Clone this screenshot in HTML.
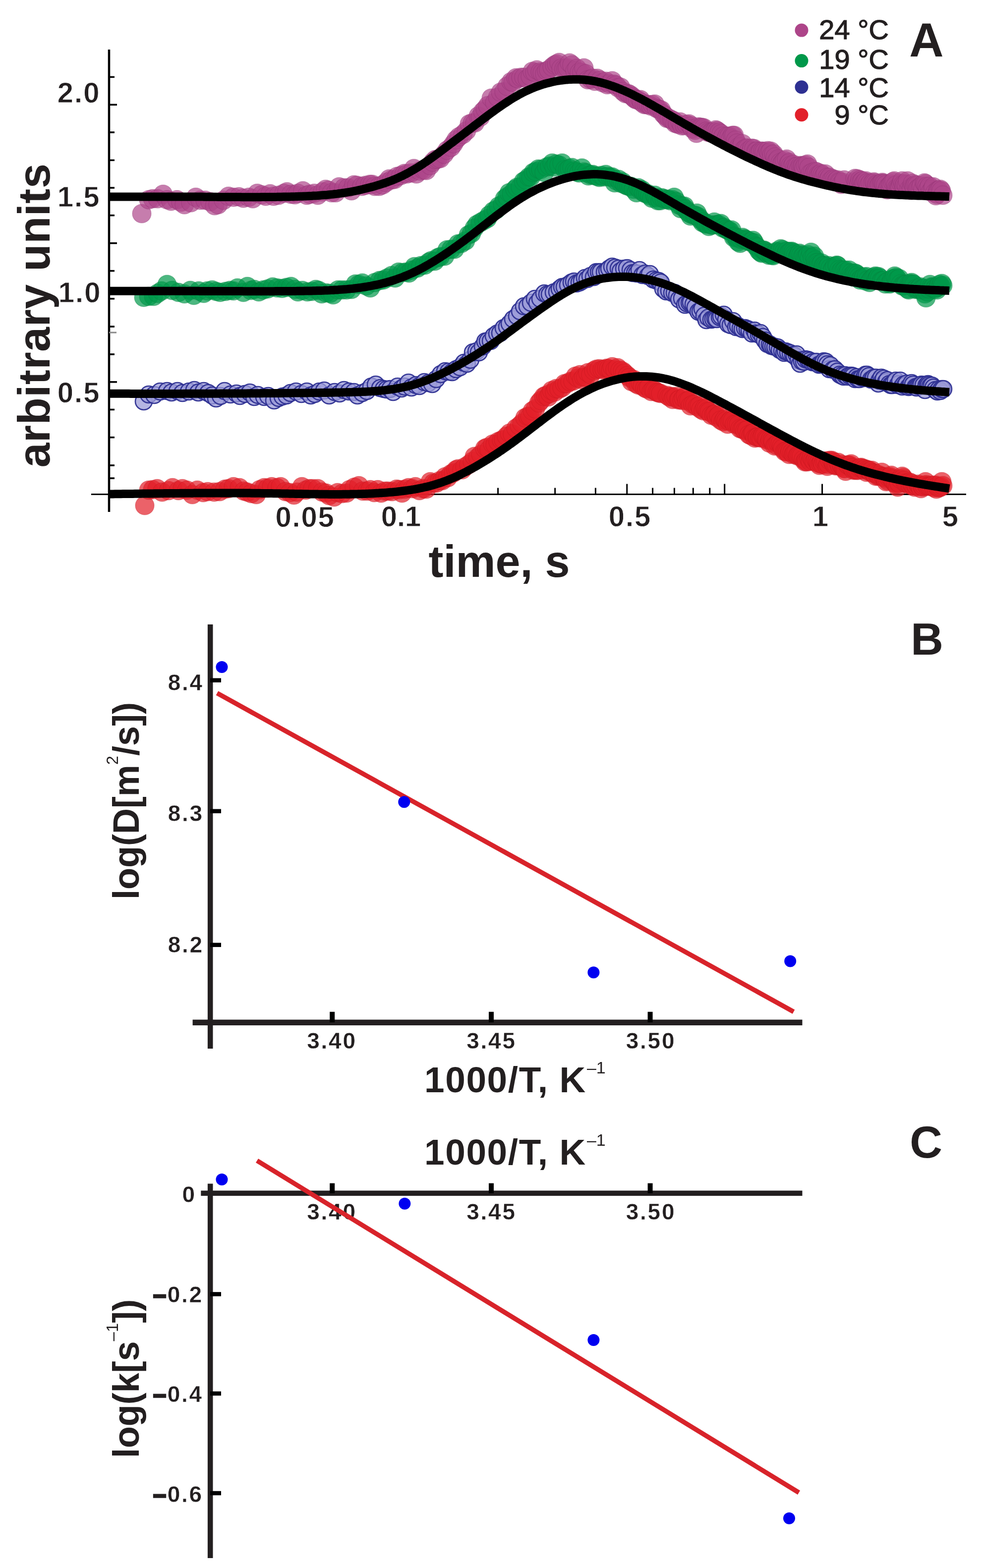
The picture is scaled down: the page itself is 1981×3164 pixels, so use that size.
<!DOCTYPE html>
<html><head><meta charset="utf-8"><title>Figure</title>
<style>html,body{margin:0;padding:0;background:#fff;}svg{display:block;}</style>
</head><body>
<svg width="1981" height="3164" viewBox="0 0 1981 3164">
<rect width="1981" height="3164" fill="#fff"/>
<g stroke="#000" fill="none">
<line x1="220" y1="100" x2="220" y2="1033" stroke-width="4.5"/>
<line x1="184" y1="997.5" x2="1949" y2="997.5" stroke-width="3"/>
<line x1="220" y1="155.4" x2="231" y2="155.4" stroke-width="3.5"/>
<line x1="220" y1="211.3" x2="236" y2="211.3" stroke-width="3.5"/>
<line x1="220" y1="267" x2="231" y2="267" stroke-width="3.5"/>
<line x1="220" y1="323.3" x2="231" y2="323.3" stroke-width="3.5"/>
<line x1="220" y1="379" x2="231" y2="379" stroke-width="3.5"/>
<line x1="220" y1="434.6" x2="231" y2="434.6" stroke-width="3.5"/>
<line x1="220" y1="490.7" x2="236" y2="490.7" stroke-width="3.5"/>
<line x1="220" y1="546.6" x2="231" y2="546.6" stroke-width="3.5"/>
<line x1="220" y1="602.8" x2="231" y2="602.8" stroke-width="3.5"/>
<line x1="220" y1="659" x2="231" y2="659" stroke-width="3.5"/>
<line x1="220" y1="714.9" x2="231" y2="714.9" stroke-width="3.5"/>
<line x1="220" y1="770.8" x2="236" y2="770.8" stroke-width="3.5"/>
<line x1="220" y1="826.5" x2="231" y2="826.5" stroke-width="3.5"/>
<line x1="220" y1="882.6" x2="231" y2="882.6" stroke-width="3.5"/>
<line x1="220" y1="939" x2="231" y2="939" stroke-width="3.5"/>
<line x1="220" y1="965" x2="231" y2="965" stroke-width="3.5"/>
<line x1="220" y1="671" x2="235" y2="671" stroke="#888" stroke-width="3"/>
<line x1="350.6" y1="997.5" x2="350.6" y2="984.5" stroke-width="3"/>
<line x1="465.7" y1="997.5" x2="465.7" y2="984.5" stroke-width="3"/>
<line x1="547.4" y1="997.5" x2="547.4" y2="984.5" stroke-width="3"/>
<line x1="610.8" y1="997.5" x2="610.8" y2="984.5" stroke-width="3"/>
<line x1="662.6" y1="997.5" x2="662.6" y2="984.5" stroke-width="3"/>
<line x1="706.4" y1="997.5" x2="706.4" y2="984.5" stroke-width="3"/>
<line x1="744.3" y1="997.5" x2="744.3" y2="984.5" stroke-width="3"/>
<line x1="777.8" y1="997.5" x2="777.8" y2="984.5" stroke-width="3"/>
<line x1="807.7" y1="997.5" x2="807.7" y2="976.5" stroke-width="3"/>
<line x1="1004.6" y1="997.5" x2="1004.6" y2="984.5" stroke-width="3"/>
<line x1="1119.7" y1="997.5" x2="1119.7" y2="984.5" stroke-width="3"/>
<line x1="1201.4" y1="997.5" x2="1201.4" y2="984.5" stroke-width="3"/>
<line x1="1264.8" y1="997.5" x2="1264.8" y2="976.5" stroke-width="3"/>
<line x1="1316.6" y1="997.5" x2="1316.6" y2="984.5" stroke-width="3"/>
<line x1="1360.4" y1="997.5" x2="1360.4" y2="984.5" stroke-width="3"/>
<line x1="1398.3" y1="997.5" x2="1398.3" y2="984.5" stroke-width="3"/>
<line x1="1431.8" y1="997.5" x2="1431.8" y2="984.5" stroke-width="3"/>
<line x1="1461.7" y1="997.5" x2="1461.7" y2="976.5" stroke-width="3"/>
<line x1="1658.6" y1="997.5" x2="1658.6" y2="976.5" stroke-width="3"/>
</g>
<g fill="#ae468a" fill-opacity="0.7" stroke="#8a2f6c" stroke-opacity="0.35" stroke-width="1.2">
<circle cx="286" cy="431" r="19"/>
<circle cx="300" cy="403" r="19"/>
<circle cx="308" cy="401" r="19"/>
<circle cx="318" cy="401" r="19"/>
<circle cx="329" cy="392" r="19"/>
<circle cx="337" cy="403" r="19"/>
<circle cx="345" cy="406" r="19"/>
<circle cx="357" cy="403" r="19"/>
<circle cx="365" cy="408" r="19"/>
<circle cx="372" cy="413" r="19"/>
<circle cx="385" cy="409" r="19"/>
<circle cx="395" cy="398" r="19"/>
<circle cx="404" cy="404" r="19"/>
<circle cx="414" cy="404" r="19"/>
<circle cx="424" cy="407" r="19"/>
<circle cx="433" cy="415" r="19"/>
<circle cx="440" cy="413" r="19"/>
<circle cx="451" cy="404" r="19"/>
<circle cx="461" cy="396" r="19"/>
<circle cx="471" cy="398" r="19"/>
<circle cx="482" cy="397" r="19"/>
<circle cx="491" cy="400" r="19"/>
<circle cx="502" cy="398" r="19"/>
<circle cx="510" cy="401" r="19"/>
<circle cx="519" cy="390" r="19"/>
<circle cx="528" cy="393" r="19"/>
<circle cx="536" cy="396" r="19"/>
<circle cx="545" cy="391" r="19"/>
<circle cx="552" cy="396" r="19"/>
<circle cx="562" cy="394" r="19"/>
<circle cx="573" cy="390" r="19"/>
<circle cx="579" cy="387" r="19"/>
<circle cx="587" cy="392" r="19"/>
<circle cx="595" cy="393" r="19"/>
<circle cx="601" cy="390" r="19"/>
<circle cx="611" cy="385" r="19"/>
<circle cx="619" cy="394" r="19"/>
<circle cx="625" cy="392" r="19"/>
<circle cx="634" cy="390" r="19"/>
<circle cx="641" cy="394" r="19"/>
<circle cx="651" cy="387" r="19"/>
<circle cx="657" cy="382" r="19"/>
<circle cx="663" cy="384" r="19"/>
<circle cx="669" cy="389" r="19"/>
<circle cx="677" cy="389" r="19"/>
<circle cx="684" cy="377" r="19"/>
<circle cx="694" cy="379" r="19"/>
<circle cx="702" cy="379" r="19"/>
<circle cx="709" cy="385" r="19"/>
<circle cx="714" cy="373" r="19"/>
<circle cx="720" cy="374" r="19"/>
<circle cx="730" cy="376" r="19"/>
<circle cx="737" cy="374" r="19"/>
<circle cx="746" cy="372" r="19"/>
<circle cx="751" cy="372" r="19"/>
<circle cx="756" cy="376" r="19"/>
<circle cx="765" cy="376" r="19"/>
<circle cx="772" cy="373" r="19"/>
<circle cx="779" cy="368" r="19"/>
<circle cx="785" cy="361" r="19"/>
<circle cx="790" cy="363" r="19"/>
<circle cx="796" cy="362" r="19"/>
<circle cx="801" cy="356" r="19"/>
<circle cx="809" cy="354" r="19"/>
<circle cx="816" cy="350" r="19"/>
<circle cx="821" cy="351" r="19"/>
<circle cx="829" cy="349" r="19"/>
<circle cx="835" cy="340" r="19"/>
<circle cx="840" cy="351" r="19"/>
<circle cx="847" cy="345" r="19"/>
<circle cx="855" cy="343" r="19"/>
<circle cx="860" cy="344" r="19"/>
<circle cx="868" cy="334" r="19"/>
<circle cx="873" cy="327" r="19"/>
<circle cx="878" cy="322" r="19"/>
<circle cx="883" cy="321" r="19"/>
<circle cx="888" cy="320" r="19"/>
<circle cx="896" cy="311" r="19"/>
<circle cx="902" cy="303" r="19"/>
<circle cx="910" cy="297" r="19"/>
<circle cx="915" cy="290" r="19"/>
<circle cx="920" cy="282" r="19"/>
<circle cx="926" cy="276" r="19"/>
<circle cx="934" cy="271" r="19"/>
<circle cx="941" cy="264" r="19"/>
<circle cx="947" cy="250" r="19"/>
<circle cx="953" cy="248" r="19"/>
<circle cx="958" cy="248" r="19"/>
<circle cx="965" cy="234" r="19"/>
<circle cx="969" cy="236" r="19"/>
<circle cx="974" cy="225" r="19"/>
<circle cx="979" cy="220" r="19"/>
<circle cx="984" cy="213" r="19"/>
<circle cx="991" cy="198" r="19"/>
<circle cx="998" cy="207" r="19"/>
<circle cx="1004" cy="196" r="19"/>
<circle cx="1010" cy="186" r="19"/>
<circle cx="1017" cy="185" r="19"/>
<circle cx="1023" cy="174" r="19"/>
<circle cx="1031" cy="165" r="19"/>
<circle cx="1035" cy="166" r="19"/>
<circle cx="1041" cy="157" r="19"/>
<circle cx="1045" cy="159" r="19"/>
<circle cx="1051" cy="156" r="19"/>
<circle cx="1057" cy="156" r="19"/>
<circle cx="1064" cy="159" r="19"/>
<circle cx="1070" cy="154" r="19"/>
<circle cx="1074" cy="144" r="19"/>
<circle cx="1079" cy="146" r="19"/>
<circle cx="1083" cy="141" r="19"/>
<circle cx="1090" cy="145" r="19"/>
<circle cx="1094" cy="147" r="19"/>
<circle cx="1099" cy="149" r="19"/>
<circle cx="1103" cy="143" r="19"/>
<circle cx="1107" cy="141" r="19"/>
<circle cx="1114" cy="135" r="19"/>
<circle cx="1119" cy="131" r="19"/>
<circle cx="1123" cy="129" r="19"/>
<circle cx="1128" cy="126" r="19"/>
<circle cx="1132" cy="138" r="19"/>
<circle cx="1138" cy="139" r="19"/>
<circle cx="1142" cy="139" r="19"/>
<circle cx="1145" cy="137" r="19"/>
<circle cx="1149" cy="127" r="19"/>
<circle cx="1154" cy="131" r="19"/>
<circle cx="1160" cy="143" r="19"/>
<circle cx="1164" cy="138" r="19"/>
<circle cx="1169" cy="146" r="19"/>
<circle cx="1174" cy="146" r="19"/>
<circle cx="1178" cy="137" r="19"/>
<circle cx="1182" cy="149" r="19"/>
<circle cx="1186" cy="161" r="19"/>
<circle cx="1192" cy="160" r="19"/>
<circle cx="1196" cy="158" r="19"/>
<circle cx="1200" cy="164" r="19"/>
<circle cx="1205" cy="158" r="19"/>
<circle cx="1211" cy="162" r="19"/>
<circle cx="1216" cy="167" r="19"/>
<circle cx="1222" cy="164" r="19"/>
<circle cx="1225" cy="171" r="19"/>
<circle cx="1230" cy="169" r="19"/>
<circle cx="1235" cy="163" r="19"/>
<circle cx="1239" cy="170" r="19"/>
<circle cx="1243" cy="172" r="19"/>
<circle cx="1247" cy="177" r="19"/>
<circle cx="1252" cy="176" r="19"/>
<circle cx="1257" cy="185" r="19"/>
<circle cx="1262" cy="189" r="19"/>
<circle cx="1267" cy="189" r="19"/>
<circle cx="1271" cy="191" r="19"/>
<circle cx="1276" cy="195" r="19"/>
<circle cx="1280" cy="199" r="19"/>
<circle cx="1283" cy="201" r="19"/>
<circle cx="1287" cy="202" r="19"/>
<circle cx="1292" cy="201" r="19"/>
<circle cx="1295" cy="207" r="19"/>
<circle cx="1300" cy="211" r="19"/>
<circle cx="1304" cy="211" r="19"/>
<circle cx="1308" cy="211" r="19"/>
<circle cx="1313" cy="214" r="19"/>
<circle cx="1316" cy="211" r="19"/>
<circle cx="1321" cy="210" r="19"/>
<circle cx="1325" cy="219" r="19"/>
<circle cx="1330" cy="221" r="19"/>
<circle cx="1334" cy="222" r="19"/>
<circle cx="1338" cy="230" r="19"/>
<circle cx="1342" cy="234" r="19"/>
<circle cx="1346" cy="239" r="19"/>
<circle cx="1350" cy="239" r="19"/>
<circle cx="1355" cy="242" r="19"/>
<circle cx="1358" cy="243" r="19"/>
<circle cx="1362" cy="249" r="19"/>
<circle cx="1366" cy="249" r="19"/>
<circle cx="1368" cy="251" r="19"/>
<circle cx="1372" cy="246" r="19"/>
<circle cx="1376" cy="254" r="19"/>
<circle cx="1381" cy="253" r="19"/>
<circle cx="1385" cy="251" r="19"/>
<circle cx="1390" cy="250" r="19"/>
<circle cx="1394" cy="254" r="19"/>
<circle cx="1397" cy="260" r="19"/>
<circle cx="1402" cy="263" r="19"/>
<circle cx="1405" cy="269" r="19"/>
<circle cx="1409" cy="256" r="19"/>
<circle cx="1413" cy="257" r="19"/>
<circle cx="1416" cy="257" r="19"/>
<circle cx="1420" cy="258" r="19"/>
<circle cx="1425" cy="265" r="19"/>
<circle cx="1429" cy="267" r="19"/>
<circle cx="1433" cy="268" r="19"/>
<circle cx="1437" cy="266" r="19"/>
<circle cx="1440" cy="266" r="19"/>
<circle cx="1444" cy="262" r="19"/>
<circle cx="1447" cy="264" r="19"/>
<circle cx="1451" cy="267" r="19"/>
<circle cx="1455" cy="270" r="19"/>
<circle cx="1459" cy="275" r="19"/>
<circle cx="1463" cy="283" r="19"/>
<circle cx="1467" cy="275" r="19"/>
<circle cx="1471" cy="275" r="19"/>
<circle cx="1474" cy="280" r="19"/>
<circle cx="1478" cy="273" r="19"/>
<circle cx="1481" cy="273" r="19"/>
<circle cx="1484" cy="283" r="19"/>
<circle cx="1487" cy="289" r="19"/>
<circle cx="1491" cy="296" r="19"/>
<circle cx="1494" cy="297" r="19"/>
<circle cx="1498" cy="290" r="19"/>
<circle cx="1501" cy="302" r="19"/>
<circle cx="1505" cy="299" r="19"/>
<circle cx="1508" cy="299" r="19"/>
<circle cx="1511" cy="304" r="19"/>
<circle cx="1515" cy="306" r="19"/>
<circle cx="1517" cy="299" r="19"/>
<circle cx="1521" cy="300" r="19"/>
<circle cx="1525" cy="305" r="19"/>
<circle cx="1527" cy="305" r="19"/>
<circle cx="1530" cy="309" r="19"/>
<circle cx="1532" cy="310" r="19"/>
<circle cx="1535" cy="305" r="19"/>
<circle cx="1539" cy="305" r="19"/>
<circle cx="1542" cy="306" r="19"/>
<circle cx="1546" cy="311" r="19"/>
<circle cx="1549" cy="304" r="19"/>
<circle cx="1552" cy="308" r="19"/>
<circle cx="1555" cy="305" r="19"/>
<circle cx="1557" cy="313" r="19"/>
<circle cx="1561" cy="311" r="19"/>
<circle cx="1564" cy="317" r="19"/>
<circle cx="1567" cy="325" r="19"/>
<circle cx="1570" cy="321" r="19"/>
<circle cx="1574" cy="328" r="19"/>
<circle cx="1577" cy="331" r="19"/>
<circle cx="1580" cy="327" r="19"/>
<circle cx="1583" cy="324" r="19"/>
<circle cx="1587" cy="321" r="19"/>
<circle cx="1591" cy="330" r="19"/>
<circle cx="1593" cy="328" r="19"/>
<circle cx="1595" cy="334" r="19"/>
<circle cx="1598" cy="336" r="19"/>
<circle cx="1601" cy="332" r="19"/>
<circle cx="1604" cy="337" r="19"/>
<circle cx="1606" cy="343" r="19"/>
<circle cx="1608" cy="336" r="19"/>
<circle cx="1611" cy="342" r="19"/>
<circle cx="1615" cy="334" r="19"/>
<circle cx="1618" cy="335" r="19"/>
<circle cx="1620" cy="335" r="19"/>
<circle cx="1622" cy="339" r="19"/>
<circle cx="1625" cy="333" r="19"/>
<circle cx="1629" cy="331" r="19"/>
<circle cx="1632" cy="338" r="19"/>
<circle cx="1635" cy="350" r="19"/>
<circle cx="1639" cy="348" r="19"/>
<circle cx="1642" cy="351" r="19"/>
<circle cx="1645" cy="346" r="19"/>
<circle cx="1648" cy="347" r="19"/>
<circle cx="1651" cy="353" r="19"/>
<circle cx="1653" cy="355" r="19"/>
<circle cx="1656" cy="350" r="19"/>
<circle cx="1659" cy="353" r="19"/>
<circle cx="1662" cy="356" r="19"/>
<circle cx="1665" cy="351" r="19"/>
<circle cx="1669" cy="358" r="19"/>
<circle cx="1671" cy="363" r="19"/>
<circle cx="1674" cy="358" r="19"/>
<circle cx="1677" cy="364" r="19"/>
<circle cx="1681" cy="361" r="19"/>
<circle cx="1684" cy="363" r="19"/>
<circle cx="1687" cy="366" r="19"/>
<circle cx="1690" cy="363" r="19"/>
<circle cx="1693" cy="367" r="19"/>
<circle cx="1695" cy="368" r="19"/>
<circle cx="1697" cy="372" r="19"/>
<circle cx="1701" cy="368" r="19"/>
<circle cx="1703" cy="363" r="19"/>
<circle cx="1725" cy="360" r="19"/>
<circle cx="1728" cy="366" r="19"/>
<circle cx="1730" cy="361" r="19"/>
<circle cx="1733" cy="371" r="19"/>
<circle cx="1735" cy="363" r="19"/>
<circle cx="1738" cy="366" r="19"/>
<circle cx="1740" cy="365" r="19"/>
<circle cx="1742" cy="371" r="19"/>
<circle cx="1744" cy="368" r="19"/>
<circle cx="1747" cy="365" r="19"/>
<circle cx="1750" cy="369" r="19"/>
<circle cx="1753" cy="373" r="19"/>
<circle cx="1756" cy="369" r="19"/>
<circle cx="1760" cy="370" r="19"/>
<circle cx="1763" cy="367" r="19"/>
<circle cx="1765" cy="369" r="19"/>
<circle cx="1768" cy="372" r="19"/>
<circle cx="1770" cy="373" r="19"/>
<circle cx="1773" cy="374" r="19"/>
<circle cx="1775" cy="372" r="19"/>
<circle cx="1778" cy="370" r="19"/>
<circle cx="1780" cy="368" r="19"/>
<circle cx="1782" cy="370" r="19"/>
<circle cx="1784" cy="371" r="19"/>
<circle cx="1787" cy="373" r="19"/>
<circle cx="1790" cy="383" r="19"/>
<circle cx="1792" cy="377" r="19"/>
<circle cx="1795" cy="375" r="19"/>
<circle cx="1797" cy="380" r="19"/>
<circle cx="1798" cy="371" r="19"/>
<circle cx="1801" cy="367" r="19"/>
<circle cx="1804" cy="365" r="19"/>
<circle cx="1807" cy="374" r="19"/>
<circle cx="1809" cy="380" r="19"/>
<circle cx="1812" cy="380" r="19"/>
<circle cx="1814" cy="380" r="19"/>
<circle cx="1816" cy="378" r="19"/>
<circle cx="1818" cy="370" r="19"/>
<circle cx="1820" cy="365" r="19"/>
<circle cx="1822" cy="372" r="19"/>
<circle cx="1824" cy="375" r="19"/>
<circle cx="1826" cy="371" r="19"/>
<circle cx="1829" cy="373" r="19"/>
<circle cx="1831" cy="365" r="19"/>
<circle cx="1834" cy="382" r="19"/>
<circle cx="1837" cy="384" r="19"/>
<circle cx="1839" cy="378" r="19"/>
<circle cx="1841" cy="370" r="19"/>
<circle cx="1843" cy="376" r="19"/>
<circle cx="1845" cy="377" r="19"/>
<circle cx="1847" cy="373" r="19"/>
<circle cx="1850" cy="374" r="19"/>
<circle cx="1851" cy="381" r="19"/>
<circle cx="1854" cy="379" r="19"/>
<circle cx="1857" cy="379" r="19"/>
<circle cx="1859" cy="375" r="19"/>
<circle cx="1862" cy="382" r="19"/>
<circle cx="1865" cy="369" r="19"/>
<circle cx="1867" cy="371" r="19"/>
<circle cx="1870" cy="376" r="19"/>
<circle cx="1872" cy="382" r="19"/>
<circle cx="1875" cy="376" r="19"/>
<circle cx="1877" cy="387" r="19"/>
<circle cx="1881" cy="382" r="19"/>
<circle cx="1883" cy="377" r="19"/>
<circle cx="1886" cy="389" r="19"/>
<circle cx="1888" cy="395" r="19"/>
<circle cx="1890" cy="392" r="19"/>
<circle cx="1892" cy="384" r="19"/>
<circle cx="1894" cy="384" r="19"/>
<circle cx="1897" cy="382" r="19"/>
<circle cx="1899" cy="385" r="19"/>
<circle cx="1902" cy="394" r="19"/>
</g>
<g fill="#00984a" fill-opacity="0.7" stroke="#0a7a3c" stroke-opacity="0.35" stroke-width="1.2">
<circle cx="290" cy="600" r="19"/>
<circle cx="300" cy="598" r="19"/>
<circle cx="310" cy="598" r="19"/>
<circle cx="318" cy="592" r="19"/>
<circle cx="326" cy="587" r="19"/>
<circle cx="337" cy="574" r="19"/>
<circle cx="347" cy="586" r="19"/>
<circle cx="360" cy="590" r="19"/>
<circle cx="372" cy="593" r="19"/>
<circle cx="384" cy="586" r="19"/>
<circle cx="391" cy="596" r="19"/>
<circle cx="401" cy="587" r="19"/>
<circle cx="411" cy="592" r="19"/>
<circle cx="418" cy="587" r="19"/>
<circle cx="428" cy="585" r="19"/>
<circle cx="436" cy="588" r="19"/>
<circle cx="444" cy="590" r="19"/>
<circle cx="455" cy="588" r="19"/>
<circle cx="464" cy="586" r="19"/>
<circle cx="471" cy="587" r="19"/>
<circle cx="479" cy="581" r="19"/>
<circle cx="491" cy="590" r="19"/>
<circle cx="499" cy="578" r="19"/>
<circle cx="506" cy="586" r="19"/>
<circle cx="513" cy="584" r="19"/>
<circle cx="522" cy="589" r="19"/>
<circle cx="531" cy="585" r="19"/>
<circle cx="540" cy="583" r="19"/>
<circle cx="550" cy="579" r="19"/>
<circle cx="559" cy="581" r="19"/>
<circle cx="569" cy="582" r="19"/>
<circle cx="578" cy="580" r="19"/>
<circle cx="587" cy="578" r="19"/>
<circle cx="595" cy="584" r="19"/>
<circle cx="601" cy="589" r="19"/>
<circle cx="610" cy="586" r="19"/>
<circle cx="620" cy="589" r="19"/>
<circle cx="629" cy="588" r="19"/>
<circle cx="637" cy="584" r="19"/>
<circle cx="643" cy="586" r="19"/>
<circle cx="649" cy="593" r="19"/>
<circle cx="658" cy="591" r="19"/>
<circle cx="666" cy="592" r="19"/>
<circle cx="672" cy="595" r="19"/>
<circle cx="682" cy="585" r="19"/>
<circle cx="690" cy="585" r="19"/>
<circle cx="699" cy="585" r="19"/>
<circle cx="709" cy="584" r="19"/>
<circle cx="717" cy="573" r="19"/>
<circle cx="724" cy="574" r="19"/>
<circle cx="731" cy="571" r="19"/>
<circle cx="739" cy="577" r="19"/>
<circle cx="747" cy="581" r="19"/>
<circle cx="756" cy="570" r="19"/>
<circle cx="766" cy="566" r="19"/>
<circle cx="773" cy="565" r="19"/>
<circle cx="781" cy="561" r="19"/>
<circle cx="790" cy="556" r="19"/>
<circle cx="797" cy="561" r="19"/>
<circle cx="804" cy="549" r="19"/>
<circle cx="812" cy="550" r="19"/>
<circle cx="819" cy="549" r="19"/>
<circle cx="825" cy="551" r="19"/>
<circle cx="831" cy="545" r="19"/>
<circle cx="836" cy="538" r="19"/>
<circle cx="842" cy="541" r="19"/>
<circle cx="849" cy="536" r="19"/>
<circle cx="857" cy="535" r="19"/>
<circle cx="865" cy="529" r="19"/>
<circle cx="870" cy="526" r="19"/>
<circle cx="877" cy="527" r="19"/>
<circle cx="883" cy="520" r="19"/>
<circle cx="888" cy="518" r="19"/>
<circle cx="897" cy="517" r="19"/>
<circle cx="902" cy="504" r="19"/>
<circle cx="910" cy="503" r="19"/>
<circle cx="917" cy="503" r="19"/>
<circle cx="924" cy="492" r="19"/>
<circle cx="931" cy="491" r="19"/>
<circle cx="939" cy="486" r="19"/>
<circle cx="945" cy="474" r="19"/>
<circle cx="951" cy="471" r="19"/>
<circle cx="957" cy="460" r="19"/>
<circle cx="962" cy="453" r="19"/>
<circle cx="969" cy="449" r="19"/>
<circle cx="976" cy="445" r="19"/>
<circle cx="983" cy="441" r="19"/>
<circle cx="987" cy="434" r="19"/>
<circle cx="995" cy="426" r="19"/>
<circle cx="1001" cy="423" r="19"/>
<circle cx="1006" cy="416" r="19"/>
<circle cx="1014" cy="412" r="19"/>
<circle cx="1018" cy="401" r="19"/>
<circle cx="1023" cy="397" r="19"/>
<circle cx="1027" cy="389" r="19"/>
<circle cx="1032" cy="391" r="19"/>
<circle cx="1039" cy="382" r="19"/>
<circle cx="1043" cy="378" r="19"/>
<circle cx="1050" cy="377" r="19"/>
<circle cx="1056" cy="366" r="19"/>
<circle cx="1061" cy="363" r="19"/>
<circle cx="1067" cy="357" r="19"/>
<circle cx="1071" cy="357" r="19"/>
<circle cx="1076" cy="348" r="19"/>
<circle cx="1081" cy="346" r="19"/>
<circle cx="1086" cy="341" r="19"/>
<circle cx="1091" cy="342" r="19"/>
<circle cx="1098" cy="348" r="19"/>
<circle cx="1103" cy="337" r="19"/>
<circle cx="1109" cy="335" r="19"/>
<circle cx="1114" cy="329" r="19"/>
<circle cx="1118" cy="337" r="19"/>
<circle cx="1122" cy="331" r="19"/>
<circle cx="1128" cy="333" r="19"/>
<circle cx="1134" cy="329" r="19"/>
<circle cx="1140" cy="342" r="19"/>
<circle cx="1145" cy="343" r="19"/>
<circle cx="1149" cy="340" r="19"/>
<circle cx="1154" cy="338" r="19"/>
<circle cx="1159" cy="345" r="19"/>
<circle cx="1163" cy="347" r="19"/>
<circle cx="1168" cy="349" r="19"/>
<circle cx="1174" cy="339" r="19"/>
<circle cx="1178" cy="347" r="19"/>
<circle cx="1183" cy="349" r="19"/>
<circle cx="1187" cy="355" r="19"/>
<circle cx="1192" cy="353" r="19"/>
<circle cx="1196" cy="352" r="19"/>
<circle cx="1201" cy="355" r="19"/>
<circle cx="1206" cy="356" r="19"/>
<circle cx="1209" cy="358" r="19"/>
<circle cx="1213" cy="354" r="19"/>
<circle cx="1218" cy="357" r="19"/>
<circle cx="1222" cy="352" r="19"/>
<circle cx="1226" cy="356" r="19"/>
<circle cx="1232" cy="358" r="19"/>
<circle cx="1235" cy="357" r="19"/>
<circle cx="1240" cy="369" r="19"/>
<circle cx="1244" cy="365" r="19"/>
<circle cx="1248" cy="362" r="19"/>
<circle cx="1253" cy="370" r="19"/>
<circle cx="1256" cy="367" r="19"/>
<circle cx="1261" cy="373" r="19"/>
<circle cx="1265" cy="375" r="19"/>
<circle cx="1269" cy="376" r="19"/>
<circle cx="1273" cy="376" r="19"/>
<circle cx="1278" cy="382" r="19"/>
<circle cx="1284" cy="389" r="19"/>
<circle cx="1288" cy="379" r="19"/>
<circle cx="1292" cy="384" r="19"/>
<circle cx="1295" cy="383" r="19"/>
<circle cx="1299" cy="389" r="19"/>
<circle cx="1303" cy="391" r="19"/>
<circle cx="1307" cy="391" r="19"/>
<circle cx="1311" cy="395" r="19"/>
<circle cx="1315" cy="400" r="19"/>
<circle cx="1321" cy="394" r="19"/>
<circle cx="1324" cy="399" r="19"/>
<circle cx="1327" cy="405" r="19"/>
<circle cx="1332" cy="405" r="19"/>
<circle cx="1335" cy="399" r="19"/>
<circle cx="1340" cy="401" r="19"/>
<circle cx="1345" cy="403" r="19"/>
<circle cx="1348" cy="402" r="19"/>
<circle cx="1352" cy="405" r="19"/>
<circle cx="1357" cy="403" r="19"/>
<circle cx="1360" cy="398" r="19"/>
<circle cx="1365" cy="407" r="19"/>
<circle cx="1370" cy="414" r="19"/>
<circle cx="1373" cy="421" r="19"/>
<circle cx="1376" cy="416" r="19"/>
<circle cx="1381" cy="416" r="19"/>
<circle cx="1383" cy="422" r="19"/>
<circle cx="1387" cy="427" r="19"/>
<circle cx="1390" cy="430" r="19"/>
<circle cx="1393" cy="436" r="19"/>
<circle cx="1396" cy="433" r="19"/>
<circle cx="1401" cy="434" r="19"/>
<circle cx="1404" cy="435" r="19"/>
<circle cx="1406" cy="430" r="19"/>
<circle cx="1410" cy="438" r="19"/>
<circle cx="1413" cy="443" r="19"/>
<circle cx="1417" cy="449" r="19"/>
<circle cx="1420" cy="448" r="19"/>
<circle cx="1423" cy="452" r="19"/>
<circle cx="1426" cy="452" r="19"/>
<circle cx="1430" cy="457" r="19"/>
<circle cx="1435" cy="454" r="19"/>
<circle cx="1438" cy="454" r="19"/>
<circle cx="1441" cy="448" r="19"/>
<circle cx="1446" cy="453" r="19"/>
<circle cx="1450" cy="453" r="19"/>
<circle cx="1454" cy="451" r="19"/>
<circle cx="1458" cy="460" r="19"/>
<circle cx="1461" cy="459" r="19"/>
<circle cx="1465" cy="463" r="19"/>
<circle cx="1469" cy="465" r="19"/>
<circle cx="1472" cy="466" r="19"/>
<circle cx="1476" cy="464" r="19"/>
<circle cx="1480" cy="479" r="19"/>
<circle cx="1482" cy="477" r="19"/>
<circle cx="1487" cy="480" r="19"/>
<circle cx="1489" cy="488" r="19"/>
<circle cx="1493" cy="491" r="19"/>
<circle cx="1495" cy="483" r="19"/>
<circle cx="1498" cy="479" r="19"/>
<circle cx="1502" cy="482" r="19"/>
<circle cx="1505" cy="484" r="19"/>
<circle cx="1508" cy="485" r="19"/>
<circle cx="1512" cy="488" r="19"/>
<circle cx="1515" cy="488" r="19"/>
<circle cx="1519" cy="485" r="19"/>
<circle cx="1522" cy="490" r="19"/>
<circle cx="1525" cy="497" r="19"/>
<circle cx="1528" cy="499" r="19"/>
<circle cx="1531" cy="506" r="19"/>
<circle cx="1534" cy="509" r="19"/>
<circle cx="1537" cy="511" r="19"/>
<circle cx="1540" cy="505" r="19"/>
<circle cx="1542" cy="505" r="19"/>
<circle cx="1545" cy="508" r="19"/>
<circle cx="1548" cy="511" r="19"/>
<circle cx="1551" cy="515" r="19"/>
<circle cx="1554" cy="512" r="19"/>
<circle cx="1557" cy="515" r="19"/>
<circle cx="1560" cy="516" r="19"/>
<circle cx="1564" cy="510" r="19"/>
<circle cx="1567" cy="507" r="19"/>
<circle cx="1570" cy="509" r="19"/>
<circle cx="1572" cy="510" r="19"/>
<circle cx="1575" cy="502" r="19"/>
<circle cx="1579" cy="504" r="19"/>
<circle cx="1582" cy="508" r="19"/>
<circle cx="1585" cy="514" r="19"/>
<circle cx="1588" cy="507" r="19"/>
<circle cx="1591" cy="511" r="19"/>
<circle cx="1594" cy="508" r="19"/>
<circle cx="1597" cy="507" r="19"/>
<circle cx="1600" cy="509" r="19"/>
<circle cx="1602" cy="513" r="19"/>
<circle cx="1605" cy="516" r="19"/>
<circle cx="1609" cy="520" r="19"/>
<circle cx="1611" cy="515" r="19"/>
<circle cx="1613" cy="511" r="19"/>
<circle cx="1616" cy="514" r="19"/>
<circle cx="1619" cy="518" r="19"/>
<circle cx="1622" cy="516" r="19"/>
<circle cx="1625" cy="519" r="19"/>
<circle cx="1628" cy="518" r="19"/>
<circle cx="1630" cy="514" r="19"/>
<circle cx="1633" cy="520" r="19"/>
<circle cx="1636" cy="509" r="19"/>
<circle cx="1639" cy="520" r="19"/>
<circle cx="1643" cy="517" r="19"/>
<circle cx="1645" cy="525" r="19"/>
<circle cx="1647" cy="530" r="19"/>
<circle cx="1650" cy="530" r="19"/>
<circle cx="1652" cy="533" r="19"/>
<circle cx="1655" cy="534" r="19"/>
<circle cx="1658" cy="531" r="19"/>
<circle cx="1661" cy="536" r="19"/>
<circle cx="1663" cy="536" r="19"/>
<circle cx="1666" cy="537" r="19"/>
<circle cx="1669" cy="539" r="19"/>
<circle cx="1672" cy="536" r="19"/>
<circle cx="1675" cy="541" r="19"/>
<circle cx="1679" cy="545" r="19"/>
<circle cx="1681" cy="543" r="19"/>
<circle cx="1684" cy="537" r="19"/>
<circle cx="1688" cy="535" r="19"/>
<circle cx="1690" cy="536" r="19"/>
<circle cx="1693" cy="544" r="19"/>
<circle cx="1696" cy="548" r="19"/>
<circle cx="1699" cy="545" r="19"/>
<circle cx="1702" cy="547" r="19"/>
<circle cx="1705" cy="545" r="19"/>
<circle cx="1708" cy="549" r="19"/>
<circle cx="1710" cy="552" r="19"/>
<circle cx="1713" cy="545" r="19"/>
<circle cx="1717" cy="551" r="19"/>
<circle cx="1719" cy="556" r="19"/>
<circle cx="1721" cy="559" r="19"/>
<circle cx="1724" cy="551" r="19"/>
<circle cx="1727" cy="552" r="19"/>
<circle cx="1730" cy="555" r="19"/>
<circle cx="1733" cy="559" r="19"/>
<circle cx="1735" cy="565" r="19"/>
<circle cx="1738" cy="562" r="19"/>
<circle cx="1741" cy="563" r="19"/>
<circle cx="1743" cy="559" r="19"/>
<circle cx="1746" cy="567" r="19"/>
<circle cx="1748" cy="558" r="19"/>
<circle cx="1751" cy="565" r="19"/>
<circle cx="1754" cy="570" r="19"/>
<circle cx="1757" cy="565" r="19"/>
<circle cx="1760" cy="562" r="19"/>
<circle cx="1763" cy="559" r="19"/>
<circle cx="1766" cy="557" r="19"/>
<circle cx="1768" cy="564" r="19"/>
<circle cx="1770" cy="562" r="19"/>
<circle cx="1772" cy="558" r="19"/>
<circle cx="1775" cy="561" r="19"/>
<circle cx="1778" cy="567" r="19"/>
<circle cx="1780" cy="567" r="19"/>
<circle cx="1783" cy="566" r="19"/>
<circle cx="1786" cy="573" r="19"/>
<circle cx="1789" cy="569" r="19"/>
<circle cx="1792" cy="568" r="19"/>
<circle cx="1795" cy="573" r="19"/>
<circle cx="1798" cy="571" r="19"/>
<circle cx="1800" cy="563" r="19"/>
<circle cx="1803" cy="562" r="19"/>
<circle cx="1805" cy="557" r="19"/>
<circle cx="1808" cy="560" r="19"/>
<circle cx="1811" cy="564" r="19"/>
<circle cx="1814" cy="562" r="19"/>
<circle cx="1817" cy="573" r="19"/>
<circle cx="1820" cy="577" r="19"/>
<circle cx="1823" cy="577" r="19"/>
<circle cx="1824" cy="574" r="19"/>
<circle cx="1826" cy="575" r="19"/>
<circle cx="1828" cy="574" r="19"/>
<circle cx="1831" cy="583" r="19"/>
<circle cx="1833" cy="585" r="19"/>
<circle cx="1835" cy="572" r="19"/>
<circle cx="1837" cy="574" r="19"/>
<circle cx="1839" cy="570" r="19"/>
<circle cx="1841" cy="573" r="19"/>
<circle cx="1844" cy="574" r="19"/>
<circle cx="1847" cy="584" r="19"/>
<circle cx="1849" cy="582" r="19"/>
<circle cx="1852" cy="584" r="19"/>
<circle cx="1854" cy="582" r="19"/>
<circle cx="1857" cy="579" r="19"/>
<circle cx="1859" cy="585" r="19"/>
<circle cx="1861" cy="582" r="19"/>
<circle cx="1864" cy="582" r="19"/>
<circle cx="1866" cy="593" r="19"/>
<circle cx="1868" cy="601" r="19"/>
<circle cx="1871" cy="589" r="19"/>
<circle cx="1874" cy="583" r="19"/>
<circle cx="1876" cy="574" r="19"/>
<circle cx="1879" cy="579" r="19"/>
<circle cx="1881" cy="581" r="19"/>
<circle cx="1883" cy="579" r="19"/>
<circle cx="1886" cy="583" r="19"/>
<circle cx="1888" cy="581" r="19"/>
<circle cx="1890" cy="585" r="19"/>
<circle cx="1893" cy="579" r="19"/>
<circle cx="1895" cy="574" r="19"/>
<circle cx="1898" cy="577" r="19"/>
<circle cx="1900" cy="572" r="19"/>
<circle cx="1902" cy="576" r="19"/>
</g>
<g fill="#9c9cd8" fill-opacity="0.75" stroke="#2e3092" stroke-opacity="0.95" stroke-width="2.6">
<circle cx="290" cy="810" r="17"/>
<circle cx="300" cy="796" r="17"/>
<circle cx="311" cy="797" r="17"/>
<circle cx="323" cy="790" r="17"/>
<circle cx="337" cy="789" r="17"/>
<circle cx="346" cy="792" r="17"/>
<circle cx="358" cy="789" r="17"/>
<circle cx="368" cy="793" r="17"/>
<circle cx="381" cy="790" r="17"/>
<circle cx="392" cy="787" r="17"/>
<circle cx="400" cy="792" r="17"/>
<circle cx="411" cy="789" r="17"/>
<circle cx="420" cy="793" r="17"/>
<circle cx="428" cy="798" r="17"/>
<circle cx="436" cy="804" r="17"/>
<circle cx="445" cy="799" r="17"/>
<circle cx="453" cy="789" r="17"/>
<circle cx="465" cy="796" r="17"/>
<circle cx="477" cy="794" r="17"/>
<circle cx="484" cy="799" r="17"/>
<circle cx="494" cy="795" r="17"/>
<circle cx="504" cy="792" r="17"/>
<circle cx="513" cy="801" r="17"/>
<circle cx="520" cy="797" r="17"/>
<circle cx="533" cy="801" r="17"/>
<circle cx="541" cy="799" r="17"/>
<circle cx="553" cy="808" r="17"/>
<circle cx="562" cy="803" r="17"/>
<circle cx="570" cy="800" r="17"/>
<circle cx="578" cy="798" r="17"/>
<circle cx="586" cy="793" r="17"/>
<circle cx="597" cy="790" r="17"/>
<circle cx="608" cy="795" r="17"/>
<circle cx="619" cy="790" r="17"/>
<circle cx="627" cy="798" r="17"/>
<circle cx="635" cy="795" r="17"/>
<circle cx="644" cy="790" r="17"/>
<circle cx="654" cy="788" r="17"/>
<circle cx="664" cy="798" r="17"/>
<circle cx="675" cy="791" r="17"/>
<circle cx="685" cy="794" r="17"/>
<circle cx="694" cy="787" r="17"/>
<circle cx="704" cy="790" r="17"/>
<circle cx="714" cy="791" r="17"/>
<circle cx="721" cy="798" r="17"/>
<circle cx="731" cy="793" r="17"/>
<circle cx="740" cy="789" r="17"/>
<circle cx="749" cy="780" r="17"/>
<circle cx="758" cy="776" r="17"/>
<circle cx="767" cy="783" r="17"/>
<circle cx="774" cy="785" r="17"/>
<circle cx="780" cy="786" r="17"/>
<circle cx="787" cy="785" r="17"/>
<circle cx="793" cy="791" r="17"/>
<circle cx="802" cy="780" r="17"/>
<circle cx="810" cy="784" r="17"/>
<circle cx="816" cy="780" r="17"/>
<circle cx="824" cy="772" r="17"/>
<circle cx="830" cy="782" r="17"/>
<circle cx="839" cy="777" r="17"/>
<circle cx="846" cy="779" r="17"/>
<circle cx="856" cy="771" r="17"/>
<circle cx="864" cy="773" r="17"/>
<circle cx="872" cy="775" r="17"/>
<circle cx="880" cy="765" r="17"/>
<circle cx="889" cy="755" r="17"/>
<circle cx="898" cy="749" r="17"/>
<circle cx="905" cy="750" r="17"/>
<circle cx="912" cy="751" r="17"/>
<circle cx="920" cy="745" r="17"/>
<circle cx="928" cy="741" r="17"/>
<circle cx="936" cy="732" r="17"/>
<circle cx="942" cy="734" r="17"/>
<circle cx="949" cy="726" r="17"/>
<circle cx="954" cy="711" r="17"/>
<circle cx="961" cy="709" r="17"/>
<circle cx="966" cy="711" r="17"/>
<circle cx="974" cy="699" r="17"/>
<circle cx="979" cy="689" r="17"/>
<circle cx="984" cy="688" r="17"/>
<circle cx="990" cy="688" r="17"/>
<circle cx="996" cy="678" r="17"/>
<circle cx="1003" cy="673" r="17"/>
<circle cx="1009" cy="672" r="17"/>
<circle cx="1016" cy="662" r="17"/>
<circle cx="1023" cy="659" r="17"/>
<circle cx="1028" cy="653" r="17"/>
<circle cx="1035" cy="644" r="17"/>
<circle cx="1043" cy="638" r="17"/>
<circle cx="1049" cy="628" r="17"/>
<circle cx="1057" cy="618" r="17"/>
<circle cx="1064" cy="618" r="17"/>
<circle cx="1071" cy="611" r="17"/>
<circle cx="1079" cy="603" r="17"/>
<circle cx="1084" cy="611" r="17"/>
<circle cx="1090" cy="603" r="17"/>
<circle cx="1098" cy="592" r="17"/>
<circle cx="1104" cy="594" r="17"/>
<circle cx="1109" cy="594" r="17"/>
<circle cx="1117" cy="590" r="17"/>
<circle cx="1124" cy="589" r="17"/>
<circle cx="1129" cy="583" r="17"/>
<circle cx="1134" cy="579" r="17"/>
<circle cx="1139" cy="579" r="17"/>
<circle cx="1146" cy="575" r="17"/>
<circle cx="1153" cy="570" r="17"/>
<circle cx="1158" cy="568" r="17"/>
<circle cx="1163" cy="572" r="17"/>
<circle cx="1169" cy="570" r="17"/>
<circle cx="1174" cy="567" r="17"/>
<circle cx="1180" cy="561" r="17"/>
<circle cx="1185" cy="563" r="17"/>
<circle cx="1191" cy="557" r="17"/>
<circle cx="1198" cy="559" r="17"/>
<circle cx="1203" cy="549" r="17"/>
<circle cx="1208" cy="549" r="17"/>
<circle cx="1212" cy="549" r="17"/>
<circle cx="1220" cy="549" r="17"/>
<circle cx="1225" cy="546" r="17"/>
<circle cx="1229" cy="542" r="17"/>
<circle cx="1235" cy="538" r="17"/>
<circle cx="1241" cy="540" r="17"/>
<circle cx="1248" cy="542" r="17"/>
<circle cx="1252" cy="547" r="17"/>
<circle cx="1259" cy="542" r="17"/>
<circle cx="1265" cy="541" r="17"/>
<circle cx="1272" cy="545" r="17"/>
<circle cx="1276" cy="551" r="17"/>
<circle cx="1281" cy="551" r="17"/>
<circle cx="1285" cy="552" r="17"/>
<circle cx="1290" cy="545" r="17"/>
<circle cx="1296" cy="555" r="17"/>
<circle cx="1301" cy="552" r="17"/>
<circle cx="1307" cy="557" r="17"/>
<circle cx="1311" cy="553" r="17"/>
<circle cx="1318" cy="564" r="17"/>
<circle cx="1324" cy="566" r="17"/>
<circle cx="1329" cy="567" r="17"/>
<circle cx="1333" cy="570" r="17"/>
<circle cx="1338" cy="583" r="17"/>
<circle cx="1344" cy="588" r="17"/>
<circle cx="1350" cy="587" r="17"/>
<circle cx="1356" cy="591" r="17"/>
<circle cx="1361" cy="591" r="17"/>
<circle cx="1366" cy="596" r="17"/>
<circle cx="1370" cy="604" r="17"/>
<circle cx="1376" cy="602" r="17"/>
<circle cx="1382" cy="615" r="17"/>
<circle cx="1386" cy="612" r="17"/>
<circle cx="1391" cy="611" r="17"/>
<circle cx="1394" cy="610" r="17"/>
<circle cx="1399" cy="614" r="17"/>
<circle cx="1403" cy="620" r="17"/>
<circle cx="1409" cy="629" r="17"/>
<circle cx="1413" cy="628" r="17"/>
<circle cx="1417" cy="623" r="17"/>
<circle cx="1421" cy="637" r="17"/>
<circle cx="1425" cy="646" r="17"/>
<circle cx="1429" cy="641" r="17"/>
<circle cx="1435" cy="645" r="17"/>
<circle cx="1439" cy="644" r="17"/>
<circle cx="1443" cy="643" r="17"/>
<circle cx="1446" cy="644" r="17"/>
<circle cx="1452" cy="640" r="17"/>
<circle cx="1455" cy="638" r="17"/>
<circle cx="1460" cy="635" r="17"/>
<circle cx="1465" cy="645" r="17"/>
<circle cx="1469" cy="654" r="17"/>
<circle cx="1474" cy="656" r="17"/>
<circle cx="1479" cy="648" r="17"/>
<circle cx="1485" cy="660" r="17"/>
<circle cx="1489" cy="658" r="17"/>
<circle cx="1494" cy="662" r="17"/>
<circle cx="1498" cy="664" r="17"/>
<circle cx="1503" cy="662" r="17"/>
<circle cx="1508" cy="664" r="17"/>
<circle cx="1512" cy="666" r="17"/>
<circle cx="1517" cy="673" r="17"/>
<circle cx="1522" cy="667" r="17"/>
<circle cx="1525" cy="673" r="17"/>
<circle cx="1531" cy="675" r="17"/>
<circle cx="1534" cy="672" r="17"/>
<circle cx="1539" cy="680" r="17"/>
<circle cx="1543" cy="687" r="17"/>
<circle cx="1548" cy="694" r="17"/>
<circle cx="1553" cy="695" r="17"/>
<circle cx="1556" cy="698" r="17"/>
<circle cx="1560" cy="699" r="17"/>
<circle cx="1564" cy="700" r="17"/>
<circle cx="1569" cy="701" r="17"/>
<circle cx="1573" cy="706" r="17"/>
<circle cx="1578" cy="708" r="17"/>
<circle cx="1582" cy="712" r="17"/>
<circle cx="1585" cy="709" r="17"/>
<circle cx="1590" cy="711" r="17"/>
<circle cx="1595" cy="713" r="17"/>
<circle cx="1600" cy="716" r="17"/>
<circle cx="1603" cy="718" r="17"/>
<circle cx="1607" cy="715" r="17"/>
<circle cx="1611" cy="727" r="17"/>
<circle cx="1614" cy="734" r="17"/>
<circle cx="1618" cy="729" r="17"/>
<circle cx="1622" cy="730" r="17"/>
<circle cx="1625" cy="725" r="17"/>
<circle cx="1630" cy="726" r="17"/>
<circle cx="1634" cy="728" r="17"/>
<circle cx="1639" cy="731" r="17"/>
<circle cx="1642" cy="730" r="17"/>
<circle cx="1647" cy="730" r="17"/>
<circle cx="1652" cy="736" r="17"/>
<circle cx="1656" cy="735" r="17"/>
<circle cx="1659" cy="734" r="17"/>
<circle cx="1662" cy="729" r="17"/>
<circle cx="1666" cy="730" r="17"/>
<circle cx="1669" cy="735" r="17"/>
<circle cx="1673" cy="745" r="17"/>
<circle cx="1675" cy="737" r="17"/>
<circle cx="1680" cy="746" r="17"/>
<circle cx="1684" cy="745" r="17"/>
<circle cx="1689" cy="750" r="17"/>
<circle cx="1694" cy="756" r="17"/>
<circle cx="1698" cy="758" r="17"/>
<circle cx="1702" cy="760" r="17"/>
<circle cx="1705" cy="757" r="17"/>
<circle cx="1710" cy="760" r="17"/>
<circle cx="1714" cy="758" r="17"/>
<circle cx="1718" cy="758" r="17"/>
<circle cx="1721" cy="759" r="17"/>
<circle cx="1725" cy="765" r="17"/>
<circle cx="1728" cy="761" r="17"/>
<circle cx="1731" cy="765" r="17"/>
<circle cx="1734" cy="765" r="17"/>
<circle cx="1739" cy="762" r="17"/>
<circle cx="1743" cy="763" r="17"/>
<circle cx="1746" cy="756" r="17"/>
<circle cx="1749" cy="756" r="17"/>
<circle cx="1753" cy="759" r="17"/>
<circle cx="1757" cy="766" r="17"/>
<circle cx="1760" cy="766" r="17"/>
<circle cx="1763" cy="762" r="17"/>
<circle cx="1767" cy="762" r="17"/>
<circle cx="1772" cy="774" r="17"/>
<circle cx="1774" cy="768" r="17"/>
<circle cx="1778" cy="762" r="17"/>
<circle cx="1780" cy="769" r="17"/>
<circle cx="1783" cy="764" r="17"/>
<circle cx="1787" cy="771" r="17"/>
<circle cx="1790" cy="767" r="17"/>
<circle cx="1794" cy="775" r="17"/>
<circle cx="1797" cy="777" r="17"/>
<circle cx="1800" cy="777" r="17"/>
<circle cx="1803" cy="772" r="17"/>
<circle cx="1807" cy="768" r="17"/>
<circle cx="1811" cy="777" r="17"/>
<circle cx="1813" cy="775" r="17"/>
<circle cx="1816" cy="768" r="17"/>
<circle cx="1820" cy="780" r="17"/>
<circle cx="1823" cy="776" r="17"/>
<circle cx="1826" cy="778" r="17"/>
<circle cx="1829" cy="774" r="17"/>
<circle cx="1833" cy="781" r="17"/>
<circle cx="1836" cy="779" r="17"/>
<circle cx="1839" cy="773" r="17"/>
<circle cx="1842" cy="776" r="17"/>
<circle cx="1847" cy="781" r="17"/>
<circle cx="1849" cy="782" r="17"/>
<circle cx="1853" cy="779" r="17"/>
<circle cx="1856" cy="778" r="17"/>
<circle cx="1859" cy="776" r="17"/>
<circle cx="1863" cy="777" r="17"/>
<circle cx="1866" cy="787" r="17"/>
<circle cx="1869" cy="778" r="17"/>
<circle cx="1872" cy="775" r="17"/>
<circle cx="1874" cy="777" r="17"/>
<circle cx="1877" cy="779" r="17"/>
<circle cx="1880" cy="778" r="17"/>
<circle cx="1883" cy="782" r="17"/>
<circle cx="1887" cy="787" r="17"/>
<circle cx="1891" cy="790" r="17"/>
<circle cx="1894" cy="786" r="17"/>
<circle cx="1897" cy="789" r="17"/>
<circle cx="1900" cy="785" r="17"/>
<circle cx="1903" cy="785" r="17"/>
</g>
<g fill="#e2202a" fill-opacity="0.7" stroke="#c0141e" stroke-opacity="0.35" stroke-width="1.2">
<circle cx="292" cy="1020" r="19"/>
<circle cx="300" cy="989" r="19"/>
<circle cx="308" cy="988" r="19"/>
<circle cx="317" cy="986" r="19"/>
<circle cx="327" cy="993" r="19"/>
<circle cx="340" cy="990" r="19"/>
<circle cx="348" cy="984" r="19"/>
<circle cx="360" cy="990" r="19"/>
<circle cx="368" cy="986" r="19"/>
<circle cx="377" cy="989" r="19"/>
<circle cx="388" cy="998" r="19"/>
<circle cx="398" cy="989" r="19"/>
<circle cx="410" cy="994" r="19"/>
<circle cx="419" cy="992" r="19"/>
<circle cx="432" cy="993" r="19"/>
<circle cx="443" cy="992" r="19"/>
<circle cx="454" cy="987" r="19"/>
<circle cx="461" cy="986" r="19"/>
<circle cx="471" cy="982" r="19"/>
<circle cx="483" cy="984" r="19"/>
<circle cx="492" cy="991" r="19"/>
<circle cx="499" cy="993" r="19"/>
<circle cx="507" cy="996" r="19"/>
<circle cx="517" cy="998" r="19"/>
<circle cx="524" cy="988" r="19"/>
<circle cx="533" cy="984" r="19"/>
<circle cx="540" cy="985" r="19"/>
<circle cx="548" cy="982" r="19"/>
<circle cx="559" cy="984" r="19"/>
<circle cx="566" cy="982" r="19"/>
<circle cx="576" cy="992" r="19"/>
<circle cx="585" cy="994" r="19"/>
<circle cx="593" cy="999" r="19"/>
<circle cx="599" cy="993" r="19"/>
<circle cx="609" cy="982" r="19"/>
<circle cx="617" cy="989" r="19"/>
<circle cx="624" cy="986" r="19"/>
<circle cx="631" cy="986" r="19"/>
<circle cx="641" cy="986" r="19"/>
<circle cx="650" cy="993" r="19"/>
<circle cx="658" cy="995" r="19"/>
<circle cx="664" cy="1000" r="19"/>
<circle cx="674" cy="1003" r="19"/>
<circle cx="681" cy="994" r="19"/>
<circle cx="690" cy="996" r="19"/>
<circle cx="699" cy="995" r="19"/>
<circle cx="705" cy="988" r="19"/>
<circle cx="715" cy="983" r="19"/>
<circle cx="724" cy="980" r="19"/>
<circle cx="732" cy="991" r="19"/>
<circle cx="741" cy="991" r="19"/>
<circle cx="747" cy="988" r="19"/>
<circle cx="755" cy="994" r="19"/>
<circle cx="762" cy="988" r="19"/>
<circle cx="769" cy="995" r="19"/>
<circle cx="777" cy="991" r="19"/>
<circle cx="783" cy="991" r="19"/>
<circle cx="791" cy="992" r="19"/>
<circle cx="800" cy="987" r="19"/>
<circle cx="806" cy="988" r="19"/>
<circle cx="811" cy="995" r="19"/>
<circle cx="817" cy="987" r="19"/>
<circle cx="824" cy="984" r="19"/>
<circle cx="832" cy="986" r="19"/>
<circle cx="838" cy="982" r="19"/>
<circle cx="846" cy="990" r="19"/>
<circle cx="854" cy="986" r="19"/>
<circle cx="860" cy="987" r="19"/>
<circle cx="868" cy="972" r="19"/>
<circle cx="874" cy="975" r="19"/>
<circle cx="880" cy="975" r="19"/>
<circle cx="887" cy="970" r="19"/>
<circle cx="892" cy="970" r="19"/>
<circle cx="898" cy="962" r="19"/>
<circle cx="903" cy="964" r="19"/>
<circle cx="910" cy="956" r="19"/>
<circle cx="915" cy="954" r="19"/>
<circle cx="920" cy="948" r="19"/>
<circle cx="924" cy="946" r="19"/>
<circle cx="932" cy="948" r="19"/>
<circle cx="938" cy="942" r="19"/>
<circle cx="946" cy="937" r="19"/>
<circle cx="953" cy="931" r="19"/>
<circle cx="957" cy="921" r="19"/>
<circle cx="964" cy="923" r="19"/>
<circle cx="970" cy="917" r="19"/>
<circle cx="978" cy="905" r="19"/>
<circle cx="982" cy="903" r="19"/>
<circle cx="987" cy="907" r="19"/>
<circle cx="994" cy="896" r="19"/>
<circle cx="999" cy="897" r="19"/>
<circle cx="1005" cy="891" r="19"/>
<circle cx="1012" cy="888" r="19"/>
<circle cx="1016" cy="887" r="19"/>
<circle cx="1022" cy="880" r="19"/>
<circle cx="1028" cy="874" r="19"/>
<circle cx="1034" cy="876" r="19"/>
<circle cx="1041" cy="864" r="19"/>
<circle cx="1048" cy="859" r="19"/>
<circle cx="1053" cy="854" r="19"/>
<circle cx="1059" cy="843" r="19"/>
<circle cx="1065" cy="840" r="19"/>
<circle cx="1069" cy="840" r="19"/>
<circle cx="1074" cy="829" r="19"/>
<circle cx="1080" cy="825" r="19"/>
<circle cx="1087" cy="813" r="19"/>
<circle cx="1091" cy="808" r="19"/>
<circle cx="1097" cy="800" r="19"/>
<circle cx="1101" cy="798" r="19"/>
<circle cx="1106" cy="801" r="19"/>
<circle cx="1110" cy="794" r="19"/>
<circle cx="1113" cy="788" r="19"/>
<circle cx="1119" cy="791" r="19"/>
<circle cx="1122" cy="784" r="19"/>
<circle cx="1128" cy="785" r="19"/>
<circle cx="1134" cy="782" r="19"/>
<circle cx="1139" cy="774" r="19"/>
<circle cx="1144" cy="774" r="19"/>
<circle cx="1150" cy="770" r="19"/>
<circle cx="1156" cy="769" r="19"/>
<circle cx="1161" cy="759" r="19"/>
<circle cx="1166" cy="763" r="19"/>
<circle cx="1170" cy="756" r="19"/>
<circle cx="1174" cy="766" r="19"/>
<circle cx="1178" cy="761" r="19"/>
<circle cx="1182" cy="761" r="19"/>
<circle cx="1186" cy="752" r="19"/>
<circle cx="1192" cy="756" r="19"/>
<circle cx="1198" cy="748" r="19"/>
<circle cx="1203" cy="745" r="19"/>
<circle cx="1209" cy="744" r="19"/>
<circle cx="1215" cy="746" r="19"/>
<circle cx="1219" cy="745" r="19"/>
<circle cx="1224" cy="743" r="19"/>
<circle cx="1228" cy="744" r="19"/>
<circle cx="1232" cy="746" r="19"/>
<circle cx="1235" cy="740" r="19"/>
<circle cx="1241" cy="746" r="19"/>
<circle cx="1246" cy="742" r="19"/>
<circle cx="1251" cy="747" r="19"/>
<circle cx="1256" cy="749" r="19"/>
<circle cx="1260" cy="753" r="19"/>
<circle cx="1266" cy="758" r="19"/>
<circle cx="1270" cy="762" r="19"/>
<circle cx="1274" cy="770" r="19"/>
<circle cx="1279" cy="766" r="19"/>
<circle cx="1283" cy="774" r="19"/>
<circle cx="1288" cy="777" r="19"/>
<circle cx="1292" cy="773" r="19"/>
<circle cx="1296" cy="779" r="19"/>
<circle cx="1301" cy="783" r="19"/>
<circle cx="1305" cy="785" r="19"/>
<circle cx="1309" cy="782" r="19"/>
<circle cx="1314" cy="790" r="19"/>
<circle cx="1318" cy="787" r="19"/>
<circle cx="1321" cy="788" r="19"/>
<circle cx="1326" cy="792" r="19"/>
<circle cx="1329" cy="793" r="19"/>
<circle cx="1333" cy="794" r="19"/>
<circle cx="1346" cy="798" r="19"/>
<circle cx="1350" cy="801" r="19"/>
<circle cx="1354" cy="800" r="19"/>
<circle cx="1357" cy="806" r="19"/>
<circle cx="1360" cy="802" r="19"/>
<circle cx="1364" cy="800" r="19"/>
<circle cx="1369" cy="807" r="19"/>
<circle cx="1371" cy="806" r="19"/>
<circle cx="1376" cy="808" r="19"/>
<circle cx="1379" cy="803" r="19"/>
<circle cx="1383" cy="799" r="19"/>
<circle cx="1386" cy="809" r="19"/>
<circle cx="1390" cy="808" r="19"/>
<circle cx="1393" cy="819" r="19"/>
<circle cx="1398" cy="816" r="19"/>
<circle cx="1402" cy="816" r="19"/>
<circle cx="1407" cy="821" r="19"/>
<circle cx="1411" cy="819" r="19"/>
<circle cx="1414" cy="826" r="19"/>
<circle cx="1419" cy="829" r="19"/>
<circle cx="1422" cy="823" r="19"/>
<circle cx="1425" cy="825" r="19"/>
<circle cx="1428" cy="830" r="19"/>
<circle cx="1431" cy="831" r="19"/>
<circle cx="1435" cy="838" r="19"/>
<circle cx="1440" cy="837" r="19"/>
<circle cx="1443" cy="835" r="19"/>
<circle cx="1446" cy="842" r="19"/>
<circle cx="1450" cy="838" r="19"/>
<circle cx="1454" cy="848" r="19"/>
<circle cx="1459" cy="851" r="19"/>
<circle cx="1462" cy="846" r="19"/>
<circle cx="1465" cy="849" r="19"/>
<circle cx="1468" cy="856" r="19"/>
<circle cx="1472" cy="850" r="19"/>
<circle cx="1475" cy="848" r="19"/>
<circle cx="1478" cy="849" r="19"/>
<circle cx="1482" cy="856" r="19"/>
<circle cx="1486" cy="856" r="19"/>
<circle cx="1490" cy="857" r="19"/>
<circle cx="1493" cy="865" r="19"/>
<circle cx="1497" cy="866" r="19"/>
<circle cx="1500" cy="865" r="19"/>
<circle cx="1503" cy="869" r="19"/>
<circle cx="1507" cy="868" r="19"/>
<circle cx="1511" cy="877" r="19"/>
<circle cx="1515" cy="879" r="19"/>
<circle cx="1518" cy="874" r="19"/>
<circle cx="1520" cy="874" r="19"/>
<circle cx="1523" cy="884" r="19"/>
<circle cx="1527" cy="882" r="19"/>
<circle cx="1529" cy="882" r="19"/>
<circle cx="1533" cy="883" r="19"/>
<circle cx="1536" cy="884" r="19"/>
<circle cx="1539" cy="879" r="19"/>
<circle cx="1542" cy="880" r="19"/>
<circle cx="1546" cy="886" r="19"/>
<circle cx="1548" cy="888" r="19"/>
<circle cx="1552" cy="894" r="19"/>
<circle cx="1554" cy="887" r="19"/>
<circle cx="1558" cy="888" r="19"/>
<circle cx="1560" cy="891" r="19"/>
<circle cx="1563" cy="900" r="19"/>
<circle cx="1566" cy="898" r="19"/>
<circle cx="1570" cy="894" r="19"/>
<circle cx="1574" cy="895" r="19"/>
<circle cx="1577" cy="900" r="19"/>
<circle cx="1579" cy="905" r="19"/>
<circle cx="1583" cy="911" r="19"/>
<circle cx="1586" cy="911" r="19"/>
<circle cx="1589" cy="912" r="19"/>
<circle cx="1592" cy="917" r="19"/>
<circle cx="1594" cy="910" r="19"/>
<circle cx="1598" cy="913" r="19"/>
<circle cx="1601" cy="917" r="19"/>
<circle cx="1603" cy="914" r="19"/>
<circle cx="1606" cy="913" r="19"/>
<circle cx="1609" cy="920" r="19"/>
<circle cx="1611" cy="919" r="19"/>
<circle cx="1614" cy="919" r="19"/>
<circle cx="1617" cy="920" r="19"/>
<circle cx="1621" cy="927" r="19"/>
<circle cx="1624" cy="932" r="19"/>
<circle cx="1626" cy="930" r="19"/>
<circle cx="1628" cy="932" r="19"/>
<circle cx="1632" cy="925" r="19"/>
<circle cx="1635" cy="931" r="19"/>
<circle cx="1637" cy="923" r="19"/>
<circle cx="1640" cy="928" r="19"/>
<circle cx="1643" cy="931" r="19"/>
<circle cx="1646" cy="927" r="19"/>
<circle cx="1649" cy="930" r="19"/>
<circle cx="1651" cy="935" r="19"/>
<circle cx="1653" cy="939" r="19"/>
<circle cx="1656" cy="936" r="19"/>
<circle cx="1658" cy="932" r="19"/>
<circle cx="1660" cy="937" r="19"/>
<circle cx="1663" cy="931" r="19"/>
<circle cx="1666" cy="930" r="19"/>
<circle cx="1669" cy="941" r="19"/>
<circle cx="1671" cy="937" r="19"/>
<circle cx="1674" cy="929" r="19"/>
<circle cx="1678" cy="929" r="19"/>
<circle cx="1681" cy="932" r="19"/>
<circle cx="1683" cy="938" r="19"/>
<circle cx="1686" cy="940" r="19"/>
<circle cx="1688" cy="939" r="19"/>
<circle cx="1691" cy="933" r="19"/>
<circle cx="1694" cy="940" r="19"/>
<circle cx="1697" cy="937" r="19"/>
<circle cx="1699" cy="941" r="19"/>
<circle cx="1702" cy="945" r="19"/>
<circle cx="1704" cy="946" r="19"/>
<circle cx="1706" cy="951" r="19"/>
<circle cx="1710" cy="938" r="19"/>
<circle cx="1712" cy="939" r="19"/>
<circle cx="1715" cy="939" r="19"/>
<circle cx="1717" cy="936" r="19"/>
<circle cx="1719" cy="944" r="19"/>
<circle cx="1722" cy="949" r="19"/>
<circle cx="1725" cy="948" r="19"/>
<circle cx="1728" cy="949" r="19"/>
<circle cx="1731" cy="949" r="19"/>
<circle cx="1734" cy="944" r="19"/>
<circle cx="1737" cy="943" r="19"/>
<circle cx="1740" cy="945" r="19"/>
<circle cx="1743" cy="948" r="19"/>
<circle cx="1745" cy="946" r="19"/>
<circle cx="1748" cy="953" r="19"/>
<circle cx="1750" cy="948" r="19"/>
<circle cx="1753" cy="949" r="19"/>
<circle cx="1755" cy="951" r="19"/>
<circle cx="1757" cy="953" r="19"/>
<circle cx="1759" cy="949" r="19"/>
<circle cx="1762" cy="954" r="19"/>
<circle cx="1764" cy="956" r="19"/>
<circle cx="1767" cy="961" r="19"/>
<circle cx="1770" cy="957" r="19"/>
<circle cx="1772" cy="961" r="19"/>
<circle cx="1774" cy="960" r="19"/>
<circle cx="1777" cy="960" r="19"/>
<circle cx="1779" cy="953" r="19"/>
<circle cx="1782" cy="962" r="19"/>
<circle cx="1784" cy="963" r="19"/>
<circle cx="1786" cy="965" r="19"/>
<circle cx="1788" cy="972" r="19"/>
<circle cx="1791" cy="970" r="19"/>
<circle cx="1793" cy="963" r="19"/>
<circle cx="1796" cy="962" r="19"/>
<circle cx="1798" cy="959" r="19"/>
<circle cx="1800" cy="967" r="19"/>
<circle cx="1803" cy="972" r="19"/>
<circle cx="1806" cy="975" r="19"/>
<circle cx="1808" cy="977" r="19"/>
<circle cx="1811" cy="983" r="19"/>
<circle cx="1814" cy="975" r="19"/>
<circle cx="1817" cy="967" r="19"/>
<circle cx="1820" cy="961" r="19"/>
<circle cx="1822" cy="964" r="19"/>
<circle cx="1825" cy="969" r="19"/>
<circle cx="1827" cy="975" r="19"/>
<circle cx="1830" cy="976" r="19"/>
<circle cx="1833" cy="976" r="19"/>
<circle cx="1835" cy="973" r="19"/>
<circle cx="1837" cy="979" r="19"/>
<circle cx="1839" cy="975" r="19"/>
<circle cx="1842" cy="980" r="19"/>
<circle cx="1845" cy="983" r="19"/>
<circle cx="1847" cy="979" r="19"/>
<circle cx="1849" cy="980" r="19"/>
<circle cx="1852" cy="977" r="19"/>
<circle cx="1854" cy="980" r="19"/>
<circle cx="1856" cy="981" r="19"/>
<circle cx="1858" cy="986" r="19"/>
<circle cx="1861" cy="982" r="19"/>
<circle cx="1862" cy="982" r="19"/>
<circle cx="1864" cy="979" r="19"/>
<circle cx="1867" cy="972" r="19"/>
<circle cx="1869" cy="978" r="19"/>
<circle cx="1871" cy="981" r="19"/>
<circle cx="1874" cy="981" r="19"/>
<circle cx="1876" cy="981" r="19"/>
<circle cx="1879" cy="981" r="19"/>
<circle cx="1882" cy="979" r="19"/>
<circle cx="1884" cy="984" r="19"/>
<circle cx="1887" cy="979" r="19"/>
<circle cx="1889" cy="987" r="19"/>
<circle cx="1891" cy="981" r="19"/>
<circle cx="1893" cy="984" r="19"/>
<circle cx="1896" cy="984" r="19"/>
<circle cx="1898" cy="982" r="19"/>
<circle cx="1900" cy="972" r="19"/>
<circle cx="1902" cy="980" r="19"/>
</g>
<path d="M220,397.0 224,397.0 228,397.0 232,397.0 236,397.0 240,396.9 244,396.9 248,396.9 252,396.9 256,396.9 260,396.9 264,396.9 268,396.9 272,396.9 276,396.9 280,396.9 284,396.9 288,396.9 292,396.9 296,396.9 300,396.9 304,396.9 308,396.9 312,396.9 316,396.9 320,396.9 324,396.9 328,396.9 332,396.9 336,396.9 340,396.9 344,396.9 348,396.9 352,396.9 356,396.9 360,396.9 364,396.9 368,396.9 372,397.0 376,397.0 380,397.0 384,397.0 388,397.0 392,397.1 396,397.1 400,397.1 404,397.1 408,397.1 412,397.2 416,397.2 420,397.2 424,397.3 428,397.3 432,397.3 436,397.3 440,397.4 444,397.4 448,397.4 452,397.5 456,397.5 460,397.5 464,397.5 468,397.6 472,397.6 476,397.6 480,397.6 484,397.6 488,397.7 492,397.7 496,397.7 500,397.7 504,397.7 508,397.7 512,397.7 516,397.7 520,397.7 524,397.7 528,397.6 532,397.6 536,397.6 540,397.6 544,397.5 548,397.5 552,397.4 556,397.4 560,397.3 564,397.3 568,397.2 572,397.1 576,397.1 580,397.0 584,396.9 588,396.8 592,396.7 596,396.6 600,396.4 604,396.3 608,396.2 612,396.0 616,395.9 620,395.7 624,395.5 628,395.4 632,395.1 636,394.9 640,394.7 644,394.4 648,394.1 652,393.8 656,393.5 660,393.2 664,392.8 668,392.4 672,392.0 676,391.5 680,391.1 684,390.5 688,390.0 692,389.4 696,388.8 700,388.2 704,387.5 708,386.8 712,386.1 716,385.3 720,384.5 724,383.6 728,382.7 732,381.8 736,380.8 740,379.8 744,378.8 748,377.8 752,376.7 756,375.6 760,374.4 764,373.2 768,372.0 772,370.7 776,369.4 780,368.0 784,366.6 788,365.1 792,363.5 796,361.9 800,360.2 804,358.4 808,356.6 812,354.7 816,352.7 820,350.6 824,348.5 828,346.2 832,343.9 836,341.6 840,339.2 844,336.7 848,334.1 852,331.5 856,328.8 860,326.1 864,323.4 868,320.5 872,317.7 876,314.8 880,311.9 884,309.0 888,306.0 892,303.0 896,300.0 900,297.0 904,294.0 908,290.9 912,287.9 916,284.9 920,281.8 924,278.8 928,275.7 932,272.7 936,269.6 940,266.6 944,263.5 948,260.5 952,257.4 956,254.3 960,251.3 964,248.2 968,245.2 972,242.1 976,239.1 980,236.1 984,233.1 988,230.2 992,227.2 996,224.3 1000,221.4 1004,218.6 1008,215.8 1012,213.0 1016,210.3 1020,207.6 1024,205.0 1028,202.4 1032,199.9 1036,197.4 1040,195.1 1044,192.8 1048,190.5 1052,188.4 1056,186.3 1060,184.4 1064,182.5 1068,180.7 1072,178.9 1076,177.3 1080,175.7 1084,174.2 1088,172.8 1092,171.5 1096,170.2 1100,169.0 1104,167.9 1108,166.9 1112,165.9 1116,165.0 1120,164.2 1124,163.5 1128,162.8 1132,162.2 1136,161.7 1140,161.3 1144,160.9 1148,160.6 1152,160.4 1156,160.3 1160,160.2 1164,160.2 1168,160.3 1172,160.5 1176,160.7 1180,161.0 1184,161.5 1188,161.9 1192,162.5 1196,163.1 1200,163.9 1204,164.7 1208,165.6 1212,166.5 1216,167.6 1220,168.7 1224,169.9 1228,171.1 1232,172.5 1236,173.8 1240,175.3 1244,176.8 1248,178.4 1252,180.0 1256,181.7 1260,183.4 1264,185.2 1268,187.0 1272,188.9 1276,190.8 1280,192.8 1284,194.8 1288,196.8 1292,198.9 1296,201.0 1300,203.2 1304,205.3 1308,207.5 1312,209.8 1316,212.0 1320,214.3 1324,216.6 1328,218.9 1332,221.2 1336,223.6 1340,225.9 1344,228.3 1348,230.6 1352,233.0 1356,235.3 1360,237.7 1364,240.0 1368,242.4 1372,244.7 1376,247.0 1380,249.3 1384,251.6 1388,253.9 1392,256.2 1396,258.5 1400,260.7 1404,263.0 1408,265.2 1412,267.5 1416,269.7 1420,271.9 1424,274.1 1428,276.3 1432,278.5 1436,280.6 1440,282.8 1444,285.0 1448,287.1 1452,289.2 1456,291.3 1460,293.4 1464,295.5 1468,297.6 1472,299.6 1476,301.7 1480,303.7 1484,305.7 1488,307.7 1492,309.7 1496,311.7 1500,313.6 1504,315.6 1508,317.5 1512,319.4 1516,321.3 1520,323.1 1524,325.0 1528,326.8 1532,328.6 1536,330.4 1540,332.2 1544,333.9 1548,335.6 1552,337.4 1556,339.0 1560,340.7 1564,342.3 1568,343.9 1572,345.5 1576,347.0 1580,348.6 1584,350.0 1588,351.5 1592,352.9 1596,354.2 1600,355.6 1604,356.9 1608,358.2 1612,359.4 1616,360.6 1620,361.8 1624,362.9 1628,364.1 1632,365.2 1636,366.2 1640,367.3 1644,368.3 1648,369.3 1652,370.3 1656,371.3 1660,372.3 1664,373.2 1668,374.1 1672,375.0 1676,375.9 1680,376.8 1684,377.6 1688,378.4 1692,379.2 1696,380.0 1700,380.7 1704,381.4 1708,382.2 1712,382.8 1716,383.5 1720,384.1 1724,384.7 1728,385.3 1732,385.9 1736,386.4 1740,387.0 1744,387.5 1748,387.9 1752,388.4 1756,388.8 1760,389.2 1764,389.6 1768,390.0 1772,390.4 1776,390.7 1780,391.1 1784,391.4 1788,391.7 1792,392.0 1796,392.2 1800,392.5 1804,392.7 1808,393.0 1812,393.2 1816,393.4 1820,393.6 1824,393.8 1828,394.0 1832,394.1 1836,394.3 1840,394.5 1844,394.6 1848,394.8 1852,394.9 1856,395.0 1860,395.1 1864,395.3 1868,395.4 1872,395.5 1876,395.6 1880,395.7 1884,395.8 1888,395.9 1892,396.0 1896,396.1 1900,396.2 1904,396.3 1908,396.4 1915,396.6" fill="none" stroke="#000" stroke-width="17" stroke-linejoin="round"/>
<path d="M220,587.3 224,587.3 228,587.3 232,587.3 236,587.3 240,587.3 244,587.3 248,587.3 252,587.3 256,587.3 260,587.3 264,587.2 268,587.2 272,587.2 276,587.2 280,587.2 284,587.2 288,587.2 292,587.2 296,587.2 300,587.2 304,587.2 308,587.2 312,587.2 316,587.2 320,587.2 324,587.2 328,587.2 332,587.2 336,587.2 340,587.2 344,587.2 348,587.2 352,587.2 356,587.3 360,587.3 364,587.3 368,587.3 372,587.3 376,587.3 380,587.3 384,587.3 388,587.3 392,587.3 396,587.3 400,587.3 404,587.4 408,587.4 412,587.4 416,587.4 420,587.4 424,587.4 428,587.4 432,587.5 436,587.5 440,587.5 444,587.5 448,587.5 452,587.5 456,587.5 460,587.6 464,587.6 468,587.6 472,587.6 476,587.6 480,587.6 484,587.6 488,587.6 492,587.7 496,587.7 500,587.7 504,587.7 508,587.7 512,587.7 516,587.7 520,587.7 524,587.7 528,587.7 532,587.7 536,587.7 540,587.7 544,587.7 548,587.7 552,587.7 556,587.6 560,587.6 564,587.6 568,587.6 572,587.6 576,587.5 580,587.5 584,587.5 588,587.4 592,587.4 596,587.4 600,587.3 604,587.3 608,587.2 612,587.2 616,587.1 620,587.1 624,587.0 628,586.9 632,586.8 636,586.7 640,586.6 644,586.5 648,586.4 652,586.3 656,586.1 660,585.9 664,585.8 668,585.6 672,585.4 676,585.1 680,584.9 684,584.6 688,584.3 692,584.0 696,583.7 700,583.4 704,583.0 708,582.6 712,582.2 716,581.7 720,581.3 724,580.7 728,580.2 732,579.6 736,579.0 740,578.4 744,577.7 748,577.0 752,576.2 756,575.4 760,574.6 764,573.7 768,572.8 772,571.8 776,570.8 780,569.7 784,568.5 788,567.4 792,566.1 796,564.8 800,563.5 804,562.1 808,560.6 812,559.1 816,557.5 820,555.9 824,554.2 828,552.5 832,550.7 836,548.8 840,546.9 844,544.9 848,542.8 852,540.7 856,538.5 860,536.3 864,534.0 868,531.7 872,529.3 876,526.9 880,524.4 884,521.9 888,519.3 892,516.7 896,514.1 900,511.4 904,508.7 908,505.9 912,503.1 916,500.3 920,497.5 924,494.6 928,491.7 932,488.7 936,485.8 940,482.8 944,479.8 948,476.7 952,473.7 956,470.6 960,467.5 964,464.4 968,461.3 972,458.1 976,455.0 980,451.9 984,448.8 988,445.6 992,442.5 996,439.4 1000,436.3 1004,433.2 1008,430.2 1012,427.2 1016,424.2 1020,421.2 1024,418.3 1028,415.4 1032,412.6 1036,409.8 1040,407.1 1044,404.4 1048,401.8 1052,399.3 1056,396.9 1060,394.5 1064,392.1 1068,389.9 1072,387.7 1076,385.6 1080,383.5 1084,381.5 1088,379.6 1092,377.7 1096,375.9 1100,374.2 1104,372.5 1108,370.9 1112,369.3 1116,367.8 1120,366.3 1124,364.9 1128,363.6 1132,362.3 1136,361.2 1140,360.0 1144,359.0 1148,358.0 1152,357.0 1156,356.2 1160,355.4 1164,354.7 1168,354.0 1172,353.4 1176,352.9 1180,352.5 1184,352.2 1188,351.9 1192,351.7 1196,351.6 1200,351.6 1204,351.6 1208,351.8 1212,352.0 1216,352.3 1220,352.7 1224,353.2 1228,353.8 1232,354.4 1236,355.2 1240,356.0 1244,356.9 1248,357.9 1252,358.9 1256,360.1 1260,361.3 1264,362.6 1268,364.0 1272,365.5 1276,367.0 1280,368.6 1284,370.3 1288,372.0 1292,373.8 1296,375.7 1300,377.6 1304,379.6 1308,381.6 1312,383.7 1316,385.8 1320,388.0 1324,390.2 1328,392.4 1332,394.7 1336,396.9 1340,399.2 1344,401.6 1348,403.9 1352,406.2 1356,408.5 1360,410.9 1364,413.2 1368,415.5 1372,417.8 1376,420.1 1380,422.4 1384,424.6 1388,426.9 1392,429.2 1396,431.4 1400,433.7 1404,435.9 1408,438.2 1412,440.4 1416,442.6 1420,444.8 1424,447.0 1428,449.2 1432,451.4 1436,453.5 1440,455.7 1444,457.8 1448,460.0 1452,462.1 1456,464.3 1460,466.4 1464,468.5 1468,470.6 1472,472.7 1476,474.8 1480,476.9 1484,479.0 1488,481.1 1492,483.1 1496,485.2 1500,487.2 1504,489.3 1508,491.3 1512,493.3 1516,495.3 1520,497.3 1524,499.3 1528,501.3 1532,503.3 1536,505.2 1540,507.2 1544,509.1 1548,511.0 1552,512.9 1556,514.8 1560,516.7 1564,518.6 1568,520.4 1572,522.2 1576,524.0 1580,525.8 1584,527.5 1588,529.2 1592,530.9 1596,532.6 1600,534.2 1604,535.8 1608,537.4 1612,539.0 1616,540.5 1620,542.0 1624,543.4 1628,544.9 1632,546.3 1636,547.7 1640,549.0 1644,550.3 1648,551.6 1652,552.8 1656,554.0 1660,555.2 1664,556.3 1668,557.5 1672,558.5 1676,559.6 1680,560.6 1684,561.6 1688,562.6 1692,563.5 1696,564.4 1700,565.3 1704,566.1 1708,566.9 1712,567.7 1716,568.5 1720,569.3 1724,570.0 1728,570.7 1732,571.4 1736,572.0 1740,572.7 1744,573.3 1748,573.9 1752,574.5 1756,575.0 1760,575.5 1764,576.1 1768,576.6 1772,577.0 1776,577.5 1780,578.0 1784,578.4 1788,578.8 1792,579.2 1796,579.6 1800,580.0 1804,580.4 1808,580.7 1812,581.1 1816,581.4 1820,581.7 1824,582.0 1828,582.3 1832,582.6 1836,582.9 1840,583.1 1844,583.4 1848,583.6 1852,583.8 1856,584.1 1860,584.3 1864,584.5 1868,584.7 1872,584.8 1876,585.0 1880,585.2 1884,585.3 1888,585.5 1892,585.6 1896,585.8 1900,585.9 1904,586.1 1908,586.2 1915,586.4" fill="none" stroke="#000" stroke-width="17" stroke-linejoin="round"/>
<path d="M220,794.3 224,794.3 228,794.3 232,794.3 236,794.3 240,794.3 244,794.3 248,794.3 252,794.3 256,794.3 260,794.3 264,794.4 268,794.4 272,794.4 276,794.4 280,794.4 284,794.4 288,794.4 292,794.4 296,794.4 300,794.4 304,794.4 308,794.4 312,794.4 316,794.4 320,794.4 324,794.4 328,794.4 332,794.4 336,794.4 340,794.4 344,794.4 348,794.4 352,794.4 356,794.4 360,794.4 364,794.4 368,794.4 372,794.3 376,794.3 380,794.3 384,794.3 388,794.3 392,794.3 396,794.3 400,794.3 404,794.3 408,794.3 412,794.3 416,794.2 420,794.2 424,794.2 428,794.2 432,794.2 436,794.2 440,794.2 444,794.1 448,794.1 452,794.1 456,794.1 460,794.1 464,794.0 468,794.0 472,794.0 476,794.0 480,794.0 484,793.9 488,793.9 492,793.9 496,793.9 500,793.8 504,793.8 508,793.8 512,793.8 516,793.7 520,793.7 524,793.7 528,793.7 532,793.6 536,793.6 540,793.6 544,793.5 548,793.5 552,793.5 556,793.4 560,793.4 564,793.4 568,793.4 572,793.3 576,793.3 580,793.3 584,793.2 588,793.2 592,793.1 596,793.1 600,793.1 604,793.0 608,793.0 612,793.0 616,792.9 620,792.9 624,792.8 628,792.8 632,792.8 636,792.7 640,792.7 644,792.6 648,792.6 652,792.5 656,792.5 660,792.4 664,792.3 668,792.3 672,792.2 676,792.1 680,792.1 684,792.0 688,791.9 692,791.8 696,791.7 700,791.6 704,791.5 708,791.4 712,791.3 716,791.2 720,791.1 724,790.9 728,790.8 732,790.6 736,790.4 740,790.2 744,790.0 748,789.8 752,789.5 756,789.2 760,788.9 764,788.6 768,788.2 772,787.8 776,787.4 780,786.9 784,786.4 788,785.8 792,785.3 796,784.6 800,784.0 804,783.2 808,782.5 812,781.7 816,780.8 820,779.9 824,778.9 828,777.9 832,776.8 836,775.7 840,774.5 844,773.2 848,771.9 852,770.5 856,769.1 860,767.6 864,766.0 868,764.4 872,762.7 876,761.0 880,759.3 884,757.4 888,755.6 892,753.7 896,751.7 900,749.8 904,747.8 908,745.7 912,743.6 916,741.5 920,739.3 924,737.2 928,734.9 932,732.7 936,730.4 940,728.1 944,725.7 948,723.3 952,720.9 956,718.4 960,716.0 964,713.5 968,710.9 972,708.3 976,705.7 980,703.1 984,700.4 988,697.7 992,695.0 996,692.2 1000,689.4 1004,686.6 1008,683.7 1012,680.8 1016,677.9 1020,675.0 1024,672.0 1028,669.1 1032,666.1 1036,663.2 1040,660.2 1044,657.2 1048,654.3 1052,651.3 1056,648.4 1060,645.4 1064,642.5 1068,639.6 1072,636.7 1076,633.8 1080,630.9 1084,628.1 1088,625.2 1092,622.4 1096,619.6 1100,616.8 1104,614.0 1108,611.2 1112,608.5 1116,605.9 1120,603.2 1124,600.6 1128,598.1 1132,595.6 1136,593.2 1140,590.9 1144,588.6 1148,586.4 1152,584.3 1156,582.3 1160,580.4 1164,578.5 1168,576.7 1172,575.0 1176,573.4 1180,571.9 1184,570.4 1188,569.1 1192,567.8 1196,566.6 1200,565.5 1204,564.5 1208,563.6 1212,562.7 1216,562.0 1220,561.3 1224,560.7 1228,560.2 1232,559.7 1236,559.3 1240,559.0 1244,558.8 1248,558.6 1252,558.5 1256,558.5 1260,558.5 1264,558.6 1268,558.8 1272,559.0 1276,559.3 1280,559.7 1284,560.1 1288,560.6 1292,561.1 1296,561.8 1300,562.5 1304,563.2 1308,564.1 1312,565.0 1316,565.9 1320,567.0 1324,568.1 1328,569.2 1332,570.4 1336,571.7 1340,573.1 1344,574.5 1348,576.0 1352,577.5 1356,579.1 1360,580.8 1364,582.5 1368,584.2 1372,586.1 1376,587.9 1380,589.8 1384,591.8 1388,593.8 1392,595.8 1396,597.9 1400,600.0 1404,602.2 1408,604.3 1412,606.5 1416,608.7 1420,610.9 1424,613.1 1428,615.3 1432,617.6 1436,619.8 1440,622.0 1444,624.3 1448,626.5 1452,628.7 1456,631.0 1460,633.2 1464,635.5 1468,637.7 1472,640.0 1476,642.2 1480,644.4 1484,646.7 1488,648.9 1492,651.2 1496,653.4 1500,655.7 1504,657.9 1508,660.2 1512,662.4 1516,664.7 1520,667.0 1524,669.3 1528,671.6 1532,673.9 1536,676.2 1540,678.5 1544,680.8 1548,683.2 1552,685.5 1556,687.9 1560,690.2 1564,692.6 1568,694.9 1572,697.3 1576,699.7 1580,702.0 1584,704.3 1588,706.7 1592,709.0 1596,711.3 1600,713.6 1604,715.8 1608,718.1 1612,720.3 1616,722.5 1620,724.7 1624,726.8 1628,728.9 1632,730.9 1636,733.0 1640,734.9 1644,736.9 1648,738.8 1652,740.6 1656,742.4 1660,744.1 1664,745.8 1668,747.5 1672,749.1 1676,750.6 1680,752.1 1684,753.6 1688,755.0 1692,756.4 1696,757.7 1700,759.0 1704,760.2 1708,761.4 1712,762.6 1716,763.7 1720,764.8 1724,765.9 1728,766.9 1732,767.9 1736,768.9 1740,769.8 1744,770.7 1748,771.5 1752,772.4 1756,773.2 1760,774.0 1764,774.7 1768,775.4 1772,776.2 1776,776.8 1780,777.5 1784,778.2 1788,778.8 1792,779.4 1796,780.0 1800,780.6 1804,781.1 1808,781.7 1812,782.2 1816,782.7 1820,783.2 1824,783.7 1828,784.1 1832,784.6 1836,785.0 1840,785.5 1844,785.9 1848,786.3 1852,786.7 1856,787.0 1860,787.4 1864,787.7 1868,788.1 1872,788.4 1876,788.7 1880,789.0 1884,789.3 1888,789.6 1892,789.8 1896,790.1 1900,790.4 1904,790.6 1908,790.9 1915,791.3" fill="none" stroke="#000" stroke-width="17" stroke-linejoin="round"/>
<path d="M220,997.0 224,996.9 228,996.9 232,996.8 236,996.8 240,996.7 244,996.7 248,996.6 252,996.6 256,996.5 260,996.5 264,996.4 268,996.4 272,996.3 276,996.3 280,996.2 284,996.2 288,996.1 292,996.1 296,996.0 300,996.0 304,995.9 308,995.9 312,995.8 316,995.8 320,995.7 324,995.7 328,995.7 332,995.6 336,995.6 340,995.5 344,995.5 348,995.5 352,995.4 356,995.4 360,995.4 364,995.3 368,995.3 372,995.3 376,995.2 380,995.2 384,995.2 388,995.2 392,995.1 396,995.1 400,995.1 404,995.1 408,995.0 412,995.0 416,995.0 420,995.0 424,995.0 428,995.0 432,995.0 436,995.0 440,995.0 444,995.0 448,995.0 452,995.0 456,995.0 460,995.0 464,995.0 468,995.0 472,995.0 476,995.0 480,995.0 484,995.0 488,995.0 492,995.1 496,995.1 500,995.1 504,995.1 508,995.2 512,995.2 516,995.2 520,995.3 524,995.3 528,995.4 532,995.4 536,995.4 540,995.5 544,995.5 548,995.6 552,995.7 556,995.7 560,995.8 564,995.8 568,995.9 572,996.0 576,996.0 580,996.1 584,996.2 588,996.3 592,996.3 596,996.4 600,996.5 604,996.6 608,996.6 612,996.7 616,996.8 620,996.8 624,996.9 628,997.0 632,997.0 636,997.1 640,997.1 644,997.2 648,997.2 652,997.3 656,997.3 660,997.3 664,997.4 668,997.4 672,997.4 676,997.4 680,997.4 684,997.4 688,997.4 692,997.3 696,997.3 700,997.2 704,997.2 708,997.1 712,997.1 716,997.0 720,996.9 724,996.8 728,996.7 732,996.5 736,996.4 740,996.2 744,996.1 748,995.9 752,995.7 756,995.5 760,995.3 764,995.1 768,994.8 772,994.5 776,994.3 780,994.0 784,993.6 788,993.3 792,993.0 796,992.6 800,992.2 804,991.7 808,991.3 812,990.8 816,990.3 820,989.8 824,989.2 828,988.6 832,988.0 836,987.3 840,986.6 844,985.8 848,985.0 852,984.2 856,983.3 860,982.4 864,981.4 868,980.4 872,979.3 876,978.1 880,976.9 884,975.7 888,974.4 892,973.0 896,971.6 900,970.1 904,968.5 908,966.9 912,965.2 916,963.5 920,961.7 924,959.9 928,958.0 932,956.0 936,954.0 940,952.0 944,949.9 948,947.8 952,945.6 956,943.4 960,941.2 964,938.9 968,936.5 972,934.2 976,931.8 980,929.3 984,926.9 988,924.3 992,921.8 996,919.2 1000,916.6 1004,914.0 1008,911.3 1012,908.6 1016,905.8 1020,903.0 1024,900.2 1028,897.4 1032,894.5 1036,891.6 1040,888.6 1044,885.7 1048,882.7 1052,879.7 1056,876.6 1060,873.6 1064,870.5 1068,867.5 1072,864.4 1076,861.3 1080,858.2 1084,855.1 1088,852.1 1092,849.0 1096,846.0 1100,842.9 1104,839.9 1108,836.9 1112,834.0 1116,831.0 1120,828.1 1124,825.3 1128,822.4 1132,819.7 1136,816.9 1140,814.2 1144,811.6 1148,809.0 1152,806.4 1156,803.9 1160,801.5 1164,799.2 1168,796.8 1172,794.6 1176,792.4 1180,790.3 1184,788.3 1188,786.3 1192,784.4 1196,782.5 1200,780.7 1204,779.0 1208,777.4 1212,775.8 1216,774.3 1220,772.9 1224,771.6 1228,770.3 1232,769.1 1236,767.9 1240,766.9 1244,765.9 1248,764.9 1252,764.1 1256,763.3 1260,762.5 1264,761.9 1268,761.3 1272,760.8 1276,760.4 1280,760.0 1284,759.7 1288,759.5 1292,759.4 1296,759.4 1300,759.4 1304,759.5 1308,759.7 1312,759.9 1316,760.3 1320,760.7 1324,761.2 1328,761.7 1332,762.4 1336,763.1 1340,764.0 1344,764.9 1348,765.8 1352,766.9 1356,768.0 1360,769.2 1364,770.4 1368,771.8 1372,773.1 1376,774.6 1380,776.1 1384,777.6 1388,779.2 1392,780.9 1396,782.6 1400,784.4 1404,786.2 1408,788.0 1412,789.9 1416,791.8 1420,793.7 1424,795.7 1428,797.7 1432,799.7 1436,801.8 1440,803.8 1444,805.9 1448,808.0 1452,810.1 1456,812.2 1460,814.3 1464,816.4 1468,818.6 1472,820.7 1476,822.8 1480,825.0 1484,827.2 1488,829.3 1492,831.5 1496,833.7 1500,835.9 1504,838.1 1508,840.2 1512,842.4 1516,844.6 1520,846.8 1524,849.0 1528,851.2 1532,853.5 1536,855.7 1540,857.9 1544,860.1 1548,862.3 1552,864.5 1556,866.7 1560,868.8 1564,871.0 1568,873.2 1572,875.4 1576,877.5 1580,879.7 1584,881.8 1588,884.0 1592,886.1 1596,888.2 1600,890.3 1604,892.4 1608,894.5 1612,896.6 1616,898.6 1620,900.6 1624,902.7 1628,904.6 1632,906.6 1636,908.6 1640,910.5 1644,912.4 1648,914.3 1652,916.1 1656,917.9 1660,919.7 1664,921.5 1668,923.3 1672,925.0 1676,926.7 1680,928.3 1684,930.0 1688,931.6 1692,933.1 1696,934.7 1700,936.2 1704,937.7 1708,939.2 1712,940.6 1716,942.0 1720,943.4 1724,944.7 1728,946.0 1732,947.3 1736,948.5 1740,949.8 1744,950.9 1748,952.1 1752,953.3 1756,954.4 1760,955.5 1764,956.5 1768,957.6 1772,958.6 1776,959.6 1780,960.6 1784,961.6 1788,962.5 1792,963.4 1796,964.4 1800,965.2 1804,966.1 1808,967.0 1812,967.8 1816,968.7 1820,969.5 1824,970.3 1828,971.1 1832,971.9 1836,972.6 1840,973.4 1844,974.1 1848,974.8 1852,975.6 1856,976.3 1860,977.0 1864,977.6 1868,978.3 1872,979.0 1876,979.7 1880,980.3 1884,981.0 1888,981.6 1892,982.2 1896,982.9 1900,983.5 1904,984.1 1908,984.7 1915,985.8" fill="none" stroke="#000" stroke-width="17" stroke-linejoin="round"/>
<circle cx="1617" cy="61.1" r="13.5" fill="#ad4589"/>
<circle cx="1617" cy="122.6" r="13.5" fill="#00984a"/>
<circle cx="1617" cy="175.7" r="13.5" fill="#2e3092"/>
<circle cx="1617" cy="231.7" r="13.5" fill="#e2202a"/>
<g fill="#231f20" font-family="'Liberation Sans', Arial, sans-serif"><text x="202.5" y="207" font-size="58" font-weight="bold" text-anchor="end" letter-spacing="2" stroke="#fff" stroke-width="0.8">2.0</text>
<text x="202.5" y="417" font-size="58" font-weight="bold" text-anchor="end" letter-spacing="2" stroke="#fff" stroke-width="0.8">1.5</text>
<text x="204.5" y="610" font-size="58" font-weight="bold" text-anchor="end" letter-spacing="2" stroke="#fff" stroke-width="0.8">1.0</text>
<text x="202.5" y="812" font-size="58" font-weight="bold" text-anchor="end" letter-spacing="2" stroke="#fff" stroke-width="0.8">0.5</text>
<text x="615.5" y="1063" font-size="58" font-weight="bold" text-anchor="middle" letter-spacing="1.8" stroke="#fff" stroke-width="0.8">0.05</text>
<text x="809" y="1062" font-size="58" font-weight="bold" text-anchor="middle" stroke="#fff" stroke-width="0.8">0.1</text>
<text x="1271" y="1062" font-size="58" font-weight="bold" text-anchor="middle" letter-spacing="2" stroke="#fff" stroke-width="0.8">0.5</text>
<text x="1655" y="1062" font-size="58" font-weight="bold" text-anchor="middle" stroke="#fff" stroke-width="0.8">1</text>
<text x="1917" y="1062" font-size="58" font-weight="bold" text-anchor="middle" stroke="#fff" stroke-width="0.8">5</text>
<text x="1007" y="1164" font-size="90" font-weight="bold" text-anchor="middle" >time, s</text>
<text x="0" y="0" font-size="90" font-weight="bold" text-anchor="middle" letter-spacing="0.6" transform="translate(100,636.5) rotate(-90)">arbitrary units</text>
<text x="1793" y="79" font-size="56" font-weight="normal" text-anchor="end" stroke="#231f20" stroke-width="1.2">24 °C</text>
<text x="1793" y="139" font-size="56" font-weight="normal" text-anchor="end" stroke="#231f20" stroke-width="1.2">19 °C</text>
<text x="1793" y="196" font-size="56" font-weight="normal" text-anchor="end" stroke="#231f20" stroke-width="1.2">14 °C</text>
<text x="1793" y="251" font-size="56" font-weight="normal" text-anchor="end" stroke="#231f20" stroke-width="1.2">9 °C</text>
<text x="1869" y="114" font-size="96" font-weight="bold" text-anchor="middle" >A</text></g>
<g stroke="#231f20">
<line x1="424.2" y1="1260" x2="424.2" y2="2116" stroke-width="10.6"/>
<line x1="388.6" y1="2063.3" x2="1618.5" y2="2063.3" stroke-width="11.4"/>
</g><g stroke="#000">
<line x1="424" y1="1372.7" x2="446" y2="1372.7" stroke-width="8.5"/>
<line x1="424" y1="1636.8" x2="446" y2="1636.8" stroke-width="8.5"/>
<line x1="424" y1="1906.7" x2="446" y2="1906.7" stroke-width="8.5"/>
<line x1="670.2" y1="2063" x2="670.2" y2="2041.7" stroke-width="10"/>
<line x1="991" y1="2063" x2="991" y2="2041.7" stroke-width="10"/>
<line x1="1311.6" y1="2063" x2="1311.6" y2="2041.7" stroke-width="10"/>
</g>
<line x1="438" y1="1398.7" x2="1601" y2="2041.6" stroke="#d8232a" stroke-width="9.5"/>
<circle cx="447.5" cy="1346" r="12" fill="#0000f0"/>
<circle cx="815.3" cy="1618.3" r="12" fill="#0000f0"/>
<circle cx="1197.4" cy="1962.2" r="12" fill="#0000f0"/>
<circle cx="1594.2" cy="1939.5" r="12" fill="#0000f0"/>
<g fill="#231f20" font-family="'Liberation Sans', Arial, sans-serif"><text x="411" y="1393" font-size="46" font-weight="bold" text-anchor="end" letter-spacing="2.8" stroke="#fff" stroke-width="0.4">8.4</text>
<text x="411" y="1657" font-size="46" font-weight="bold" text-anchor="end" letter-spacing="2.8" stroke="#fff" stroke-width="0.4">8.3</text>
<text x="411" y="1922" font-size="46" font-weight="bold" text-anchor="end" letter-spacing="2.8" stroke="#fff" stroke-width="0.4">8.2</text>
<text x="669.5" y="2116" font-size="46" font-weight="bold" text-anchor="middle" letter-spacing="2.8" stroke="#fff" stroke-width="0.4">3.40</text>
<text x="991.5" y="2116" font-size="46" font-weight="bold" text-anchor="middle" letter-spacing="2.8" stroke="#fff" stroke-width="0.4">3.45</text>
<text x="1313" y="2116" font-size="46" font-weight="bold" text-anchor="middle" letter-spacing="2.8" stroke="#fff" stroke-width="0.4">3.50</text>
<text x="856" y="2204" font-size="73" font-weight="bold" text-anchor="start" letter-spacing="1.6" >1000/T, K<tspan font-size="34" font-weight="normal" dx="1" dy="-38" letter-spacing="0">–1</tspan></text>
<text x="0" y="0" font-size="75" font-weight="bold" text-anchor="middle" transform="translate(280,1616) rotate(-90) scale(0.96,1)">log(D[m<tspan font-size="34" font-weight="normal" dy="-42">2</tspan><tspan dy="42">/s])</tspan></text>
<text x="1870" y="1321" font-size="91" font-weight="bold" text-anchor="middle" >B</text></g>
<g stroke="#231f20">
<line x1="424.2" y1="2388.6" x2="424.2" y2="3144" stroke-width="10.6"/>
<line x1="405.3" y1="2407.8" x2="1618.5" y2="2407.8" stroke-width="10.6"/>
</g><g stroke="#000">
<line x1="424" y1="2611.4" x2="446" y2="2611.4" stroke-width="8.5"/>
<line x1="424" y1="2811.9" x2="446" y2="2811.9" stroke-width="8.5"/>
<line x1="424" y1="3013" x2="446" y2="3013" stroke-width="8.5"/>
<line x1="670.2" y1="2408" x2="670.2" y2="2387.6" stroke-width="10"/>
<line x1="991" y1="2408" x2="991" y2="2387.6" stroke-width="10"/>
<line x1="1311.6" y1="2408" x2="1311.6" y2="2387.6" stroke-width="10"/>
</g>
<g fill="#231f20" font-family="'Liberation Sans', Arial, sans-serif"><text x="395" y="2426" font-size="46" font-weight="bold" text-anchor="end" letter-spacing="2" stroke="#fff" stroke-width="0.4">0</text>
<text x="410" y="2628" font-size="46" font-weight="bold" text-anchor="end" letter-spacing="2.8" stroke="#fff" stroke-width="0.4"><tspan stroke="#231f20" stroke-width="3.6">–</tspan>0.2</text>
<text x="410" y="2829" font-size="46" font-weight="bold" text-anchor="end" letter-spacing="2.8" stroke="#fff" stroke-width="0.4"><tspan stroke="#231f20" stroke-width="3.6">–</tspan>0.4</text>
<text x="410" y="3031" font-size="46" font-weight="bold" text-anchor="end" letter-spacing="2.8" stroke="#fff" stroke-width="0.4"><tspan stroke="#231f20" stroke-width="3.6">–</tspan>0.6</text>
<text x="669.5" y="2461" font-size="46" font-weight="bold" text-anchor="middle" letter-spacing="2.8" stroke="#fff" stroke-width="0.4">3.40</text>
<text x="991.5" y="2461" font-size="46" font-weight="bold" text-anchor="middle" letter-spacing="2.8" stroke="#fff" stroke-width="0.4">3.45</text>
<text x="1313" y="2461" font-size="46" font-weight="bold" text-anchor="middle" letter-spacing="2.8" stroke="#fff" stroke-width="0.4">3.50</text>
<text x="856" y="2350" font-size="73" font-weight="bold" text-anchor="start" letter-spacing="1.6" >1000/T, K<tspan font-size="34" font-weight="normal" dx="1" dy="-38" letter-spacing="0">–1</tspan></text>
<text x="0" y="0" font-size="75" font-weight="bold" text-anchor="middle" transform="translate(280,2782) rotate(-90) scale(0.96,1)">log(k[s<tspan font-size="34" font-weight="normal" dy="-42">–1</tspan><tspan dy="42">])</tspan></text>
<text x="1868" y="2336" font-size="91" font-weight="bold" text-anchor="middle" >C</text></g>
<line x1="518.5" y1="2342" x2="1611.6" y2="3011.9" stroke="#d8232a" stroke-width="9.5"/>
<circle cx="447.5" cy="2379.9" r="12" fill="#0000f0"/>
<circle cx="816.4" cy="2428.8" r="12" fill="#0000f0"/>
<circle cx="1197.4" cy="2704" r="12" fill="#0000f0"/>
<circle cx="1592" cy="3063.7" r="12" fill="#0000f0"/>
</svg>
</body></html>
